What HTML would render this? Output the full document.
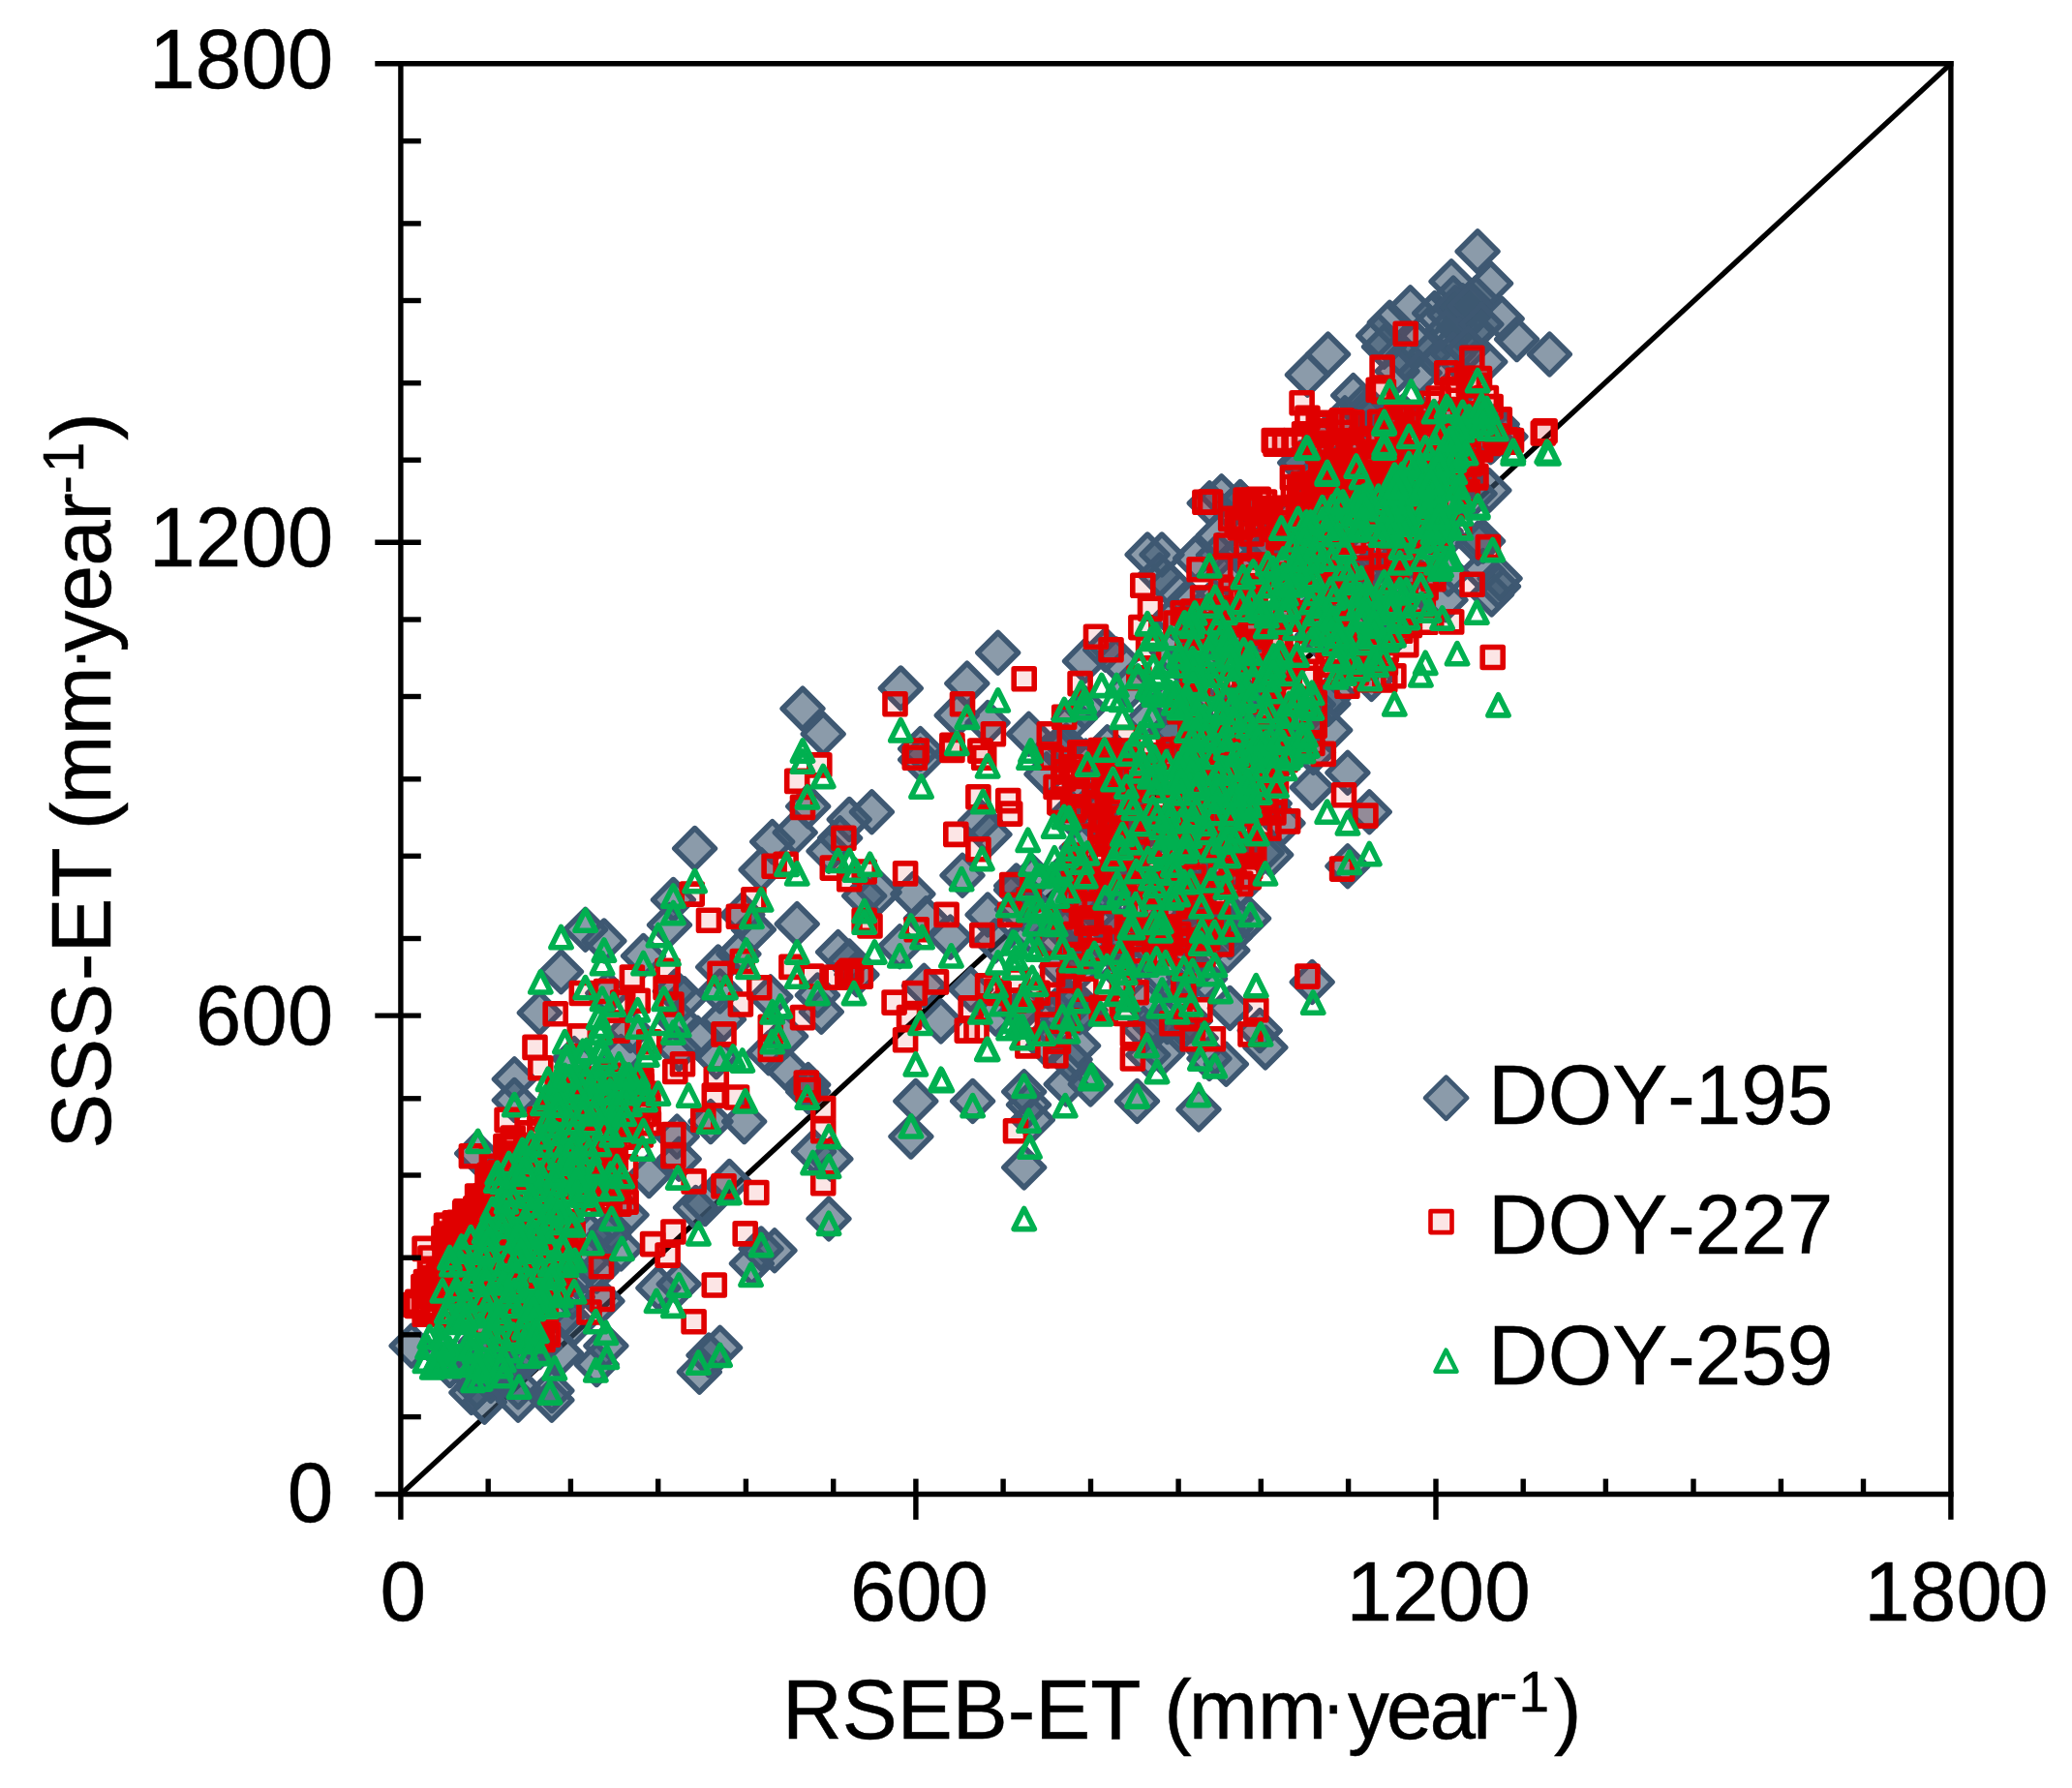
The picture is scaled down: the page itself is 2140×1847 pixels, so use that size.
<!DOCTYPE html>
<html lang="en"><head><meta charset="utf-8"><title>SSS-ET vs RSEB-ET</title>
<style>html,body{margin:0;padding:0;background:#fff}svg{display:block}text{font-family:"Liberation Sans",sans-serif;fill:#000;font-kerning:none}</style>
</head><body>
<svg width="2140" height="1847" viewBox="0 0 2140 1847">
<rect width="2140" height="1847" fill="#fff"/>
<g stroke="#000" stroke-width="5.4" fill="none" stroke-linecap="butt">
<path d="M413.9 1543.5L2014.9 65.8"/>
</g>
<g fill="#3e5872" fill-opacity="0.6" stroke="#3e5872" stroke-width="5.6" stroke-linejoin="round">
<path d="M547.9 1377.1l20.8 20.8-20.8 20.8-20.8-20.8z"/><path d="M506.8 1405.7l20.8 20.8-20.8 20.8-20.8-20.8z"/><path d="M607.2 1281.4l20.8 20.8-20.8 20.8-20.8-20.8z"/><path d="M502.1 1380.3l20.8 20.8-20.8 20.8-20.8-20.8z"/><path d="M596.2 1298.2l20.8 20.8-20.8 20.8-20.8-20.8z"/><path d="M591.2 1319l20.8 20.8-20.8 20.8-20.8-20.8z"/><path d="M517.1 1397.2l20.8 20.8-20.8 20.8-20.8-20.8z"/><path d="M527.8 1363l20.8 20.8-20.8 20.8-20.8-20.8z"/><path d="M551.6 1353.7l20.8 20.8-20.8 20.8-20.8-20.8z"/><path d="M628.6 1255.1l20.8 20.8-20.8 20.8-20.8-20.8z"/><path d="M496.2 1365.8l20.8 20.8-20.8 20.8-20.8-20.8z"/><path d="M548 1361.6l20.8 20.8-20.8 20.8-20.8-20.8z"/><path d="M464.7 1389.8l20.8 20.8-20.8 20.8-20.8-20.8z"/><path d="M609.7 1255.8l20.8 20.8-20.8 20.8-20.8-20.8z"/><path d="M513.4 1391.1l20.8 20.8-20.8 20.8-20.8-20.8z"/><path d="M583.8 1337l20.8 20.8-20.8 20.8-20.8-20.8z"/><path d="M458.8 1378.6l20.8 20.8-20.8 20.8-20.8-20.8z"/><path d="M557.4 1371l20.8 20.8-20.8 20.8-20.8-20.8z"/><path d="M486.1 1397.9l20.8 20.8-20.8 20.8-20.8-20.8z"/><path d="M540.4 1382l20.8 20.8-20.8 20.8-20.8-20.8z"/><path d="M631.2 1249.8l20.8 20.8-20.8 20.8-20.8-20.8z"/><path d="M531.3 1115.6l20.8 20.8-20.8 20.8-20.8-20.8z"/><path d="M492.7 1170.6l20.8 20.8-20.8 20.8-20.8-20.8z"/><path d="M670.3 1193.8l20.8 20.8-20.8 20.8-20.8-20.8z"/><path d="M699.2 1153.3l20.8 20.8-20.8 20.8-20.8-20.8z"/><path d="M701.2 1176.4l20.8 20.8-20.8 20.8-20.8-20.8z"/><path d="M768.7 1137.8l20.8 20.8-20.8 20.8-20.8-20.8z"/><path d="M734 1137.8l20.8 20.8-20.8 20.8-20.8-20.8z"/><path d="M753.3 1199.6l20.8 20.8-20.8 20.8-20.8-20.8z"/><path d="M718.5 1226.6l20.8 20.8-20.8 20.8-20.8-20.8z"/><path d="M728.2 1222.8l20.8 20.8-20.8 20.8-20.8-20.8z"/><path d="M786.1 1269.1l20.8 20.8-20.8 20.8-20.8-20.8z"/><path d="M776.4 1284.5l20.8 20.8-20.8 20.8-20.8-20.8z"/><path d="M679.9 1309.6l20.8 20.8-20.8 20.8-20.8-20.8z"/><path d="M701.2 1305.8l20.8 20.8-20.8 20.8-20.8-20.8z"/><path d="M616.2 1292.3l20.8 20.8-20.8 20.8-20.8-20.8z"/><path d="M622 1323.1l20.8 20.8-20.8 20.8-20.8-20.8z"/><path d="M743.6 1371.4l20.8 20.8-20.8 20.8-20.8-20.8z"/><path d="M722.4 1396.5l20.8 20.8-20.8 20.8-20.8-20.8z"/><path d="M732 1379.1l20.8 20.8-20.8 20.8-20.8-20.8z"/><path d="M625.9 1369.5l20.8 20.8-20.8 20.8-20.8-20.8z"/><path d="M616.2 1388.8l20.8 20.8-20.8 20.8-20.8-20.8z"/><path d="M569.9 1415.8l20.8 20.8-20.8 20.8-20.8-20.8z"/><path d="M535.1 1411.9l20.8 20.8-20.8 20.8-20.8-20.8z"/><path d="M492.7 1411.9l20.8 20.8-20.8 20.8-20.8-20.8z"/><path d="M508.1 1400.4l20.8 20.8-20.8 20.8-20.8-20.8z"/><path d="M425.1 1369.5l20.8 20.8-20.8 20.8-20.8-20.8z"/><path d="M486.9 1417.7l20.8 20.8-20.8 20.8-20.8-20.8z"/><path d="M500.4 1427.4l20.8 20.8-20.8 20.8-20.8-20.8z"/><path d="M569.9 1425.5l20.8 20.8-20.8 20.8-20.8-20.8z"/><path d="M535.1 1425.5l20.8 20.8-20.8 20.8-20.8-20.8z"/><path d="M593.1 1346.3l20.8 20.8-20.8 20.8-20.8-20.8z"/><path d="M579.5 1377.2l20.8 20.8-20.8 20.8-20.8-20.8z"/><path d="M647.1 1234.3l20.8 20.8-20.8 20.8-20.8-20.8z"/><path d="M641.3 1269.1l20.8 20.8-20.8 20.8-20.8-20.8z"/><path d="M717.6 855.6l20.8 20.8-20.8 20.8-20.8-20.8z"/><path d="M786.1 877.8l20.8 20.8-20.8 20.8-20.8-20.8z"/><path d="M797.7 848.8l20.8 20.8-20.8 20.8-20.8-20.8z"/><path d="M695.4 908.6l20.8 20.8-20.8 20.8-20.8-20.8z"/><path d="M691.5 934.7l20.8 20.8-20.8 20.8-20.8-20.8z"/><path d="M604.6 939.5l20.8 20.8-20.8 20.8-20.8-20.8z"/><path d="M623.9 951.1l20.8 20.8-20.8 20.8-20.8-20.8z"/><path d="M664.5 966.6l20.8 20.8-20.8 20.8-20.8-20.8z"/><path d="M579.5 983l20.8 20.8-20.8 20.8-20.8-20.8z"/><path d="M557.3 1025.4l20.8 20.8-20.8 20.8-20.8-20.8z"/><path d="M697.3 1003.2l20.8 20.8-20.8 20.8-20.8-20.8z"/><path d="M706.9 1011l20.8 20.8-20.8 20.8-20.8-20.8z"/><path d="M627.8 1005.2l20.8 20.8-20.8 20.8-20.8-20.8z"/><path d="M741.7 978.1l20.8 20.8-20.8 20.8-20.8-20.8z"/><path d="M762.9 964.6l20.8 20.8-20.8 20.8-20.8-20.8z"/><path d="M778.4 939.5l20.8 20.8-20.8 20.8-20.8-20.8z"/><path d="M766.8 924.1l20.8 20.8-20.8 20.8-20.8-20.8z"/><path d="M743.6 1003.2l20.8 20.8-20.8 20.8-20.8-20.8z"/><path d="M747.5 1032.2l20.8 20.8-20.8 20.8-20.8-20.8z"/><path d="M720.5 1051.5l20.8 20.8-20.8 20.8-20.8-20.8z"/><path d="M701.2 1063.1l20.8 20.8-20.8 20.8-20.8-20.8z"/><path d="M795.8 1009l20.8 20.8-20.8 20.8-20.8-20.8z"/><path d="M793.8 1066.9l20.8 20.8-20.8 20.8-20.8-20.8z"/><path d="M739.8 1070.8l20.8 20.8-20.8 20.8-20.8-20.8z"/><path d="M531.3 1094l20.8 20.8-20.8 20.8-20.8-20.8z"/><path d="M593.1 1072.7l20.8 20.8-20.8 20.8-20.8-20.8z"/><path d="M651 1043.8l20.8 20.8-20.8 20.8-20.8-20.8z"/><path d="M641.3 1070.8l20.8 20.8-20.8 20.8-20.8-20.8z"/><path d="M701.2 1034.1l20.8 20.8-20.8 20.8-20.8-20.8z"/><path d="M834.7 1106.9l20.8 20.8-20.8 20.8-20.8-20.8z"/><path d="M945.8 1116.6l20.8 20.8-20.8 20.8-20.8-20.8z"/><path d="M1004.6 1116.6l20.8 20.8-20.8 20.8-20.8-20.8z"/><path d="M940.9 1153.3l20.8 20.8-20.8 20.8-20.8-20.8z"/><path d="M1057.7 1106.9l20.8 20.8-20.8 20.8-20.8-20.8z"/><path d="M1062.5 1120.4l20.8 20.8-20.8 20.8-20.8-20.8z"/><path d="M1066.4 1135.9l20.8 20.8-20.8 20.8-20.8-20.8z"/><path d="M1057.7 1185.1l20.8 20.8-20.8 20.8-20.8-20.8z"/><path d="M1174.5 1116.6l20.8 20.8-20.8 20.8-20.8-20.8z"/><path d="M1101.2 1099.2l20.8 20.8-20.8 20.8-20.8-20.8z"/><path d="M1126.3 1099.2l20.8 20.8-20.8 20.8-20.8-20.8z"/><path d="M840.5 1168.7l20.8 20.8-20.8 20.8-20.8-20.8z"/><path d="M857.9 1176.4l20.8 20.8-20.8 20.8-20.8-20.8z"/><path d="M856 1238.2l20.8 20.8-20.8 20.8-20.8-20.8z"/><path d="M800 1271l20.8 20.8-20.8 20.8-20.8-20.8z"/><path d="M834.7 812.1l20.8 20.8-20.8 20.8-20.8-20.8z"/><path d="M821.2 839.1l20.8 20.8-20.8 20.8-20.8-20.8z"/><path d="M877.2 825.6l20.8 20.8-20.8 20.8-20.8-20.8z"/><path d="M900.4 817.9l20.8 20.8-20.8 20.8-20.8-20.8z"/><path d="M867.6 844.9l20.8 20.8-20.8 20.8-20.8-20.8z"/><path d="M856 858.4l20.8 20.8-20.8 20.8-20.8-20.8z"/><path d="M823.2 933.7l20.8 20.8-20.8 20.8-20.8-20.8z"/><path d="M865.6 962.7l20.8 20.8-20.8 20.8-20.8-20.8z"/><path d="M892.7 904.8l20.8 20.8-20.8 20.8-20.8-20.8z"/><path d="M908.1 900.9l20.8 20.8-20.8 20.8-20.8-20.8z"/><path d="M942.9 902.8l20.8 20.8-20.8 20.8-20.8-20.8z"/><path d="M956.4 927.9l20.8 20.8-20.8 20.8-20.8-20.8z"/><path d="M994 883.5l20.8 20.8-20.8 20.8-20.8-20.8z"/><path d="M929.3 956.9l20.8 20.8-20.8 20.8-20.8-20.8z"/><path d="M981.5 947.3l20.8 20.8-20.8 20.8-20.8-20.8z"/><path d="M1020.1 924.1l20.8 20.8-20.8 20.8-20.8-20.8z"/><path d="M1012.4 827.6l20.8 20.8-20.8 20.8-20.8-20.8z"/><path d="M1022 841.1l20.8 20.8-20.8 20.8-20.8-20.8z"/><path d="M950.6 763.9l20.8 20.8-20.8 20.8-20.8-20.8z"/><path d="M844.4 1007.1l20.8 20.8-20.8 20.8-20.8-20.8z"/><path d="M848.3 1024.5l20.8 20.8-20.8 20.8-20.8-20.8z"/><path d="M811.6 1049.6l20.8 20.8-20.8 20.8-20.8-20.8z"/><path d="M811.6 1082.4l20.8 20.8-20.8 20.8-20.8-20.8z"/><path d="M834.7 1099.8l20.8 20.8-20.8 20.8-20.8-20.8z"/><path d="M971.8 1034.1l20.8 20.8-20.8 20.8-20.8-20.8z"/><path d="M1002.7 1001.3l20.8 20.8-20.8 20.8-20.8-20.8z"/><path d="M954.4 997.4l20.8 20.8-20.8 20.8-20.8-20.8z"/><path d="M1027.8 951.1l20.8 20.8-20.8 20.8-20.8-20.8z"/><path d="M877.2 972.3l20.8 20.8-20.8 20.8-20.8-20.8z"/><path d="M884.9 985.9l20.8 20.8-20.8 20.8-20.8-20.8z"/><path d="M1113.6 1059.5l20.8 20.8-20.8 20.8-20.8-20.8z"/><path d="M1170.8 807.6l20.8 20.8-20.8 20.8-20.8-20.8z"/><path d="M1131.9 819.7l20.8 20.8-20.8 20.8-20.8-20.8z"/><path d="M1272 786.4l20.8 20.8-20.8 20.8-20.8-20.8z"/><path d="M1189.9 829.4l20.8 20.8-20.8 20.8-20.8-20.8z"/><path d="M1227.8 988.1l20.8 20.8-20.8 20.8-20.8-20.8z"/><path d="M1050.5 918.8l20.8 20.8-20.8 20.8-20.8-20.8z"/><path d="M1223 939.5l20.8 20.8-20.8 20.8-20.8-20.8z"/><path d="M1275.7 853.6l20.8 20.8-20.8 20.8-20.8-20.8z"/><path d="M1270.4 810.8l20.8 20.8-20.8 20.8-20.8-20.8z"/><path d="M1242.3 963.8l20.8 20.8-20.8 20.8-20.8-20.8z"/><path d="M1114.3 908.1l20.8 20.8-20.8 20.8-20.8-20.8z"/><path d="M1242.1 938.1l20.8 20.8-20.8 20.8-20.8-20.8z"/><path d="M1148.4 889.8l20.8 20.8-20.8 20.8-20.8-20.8z"/><path d="M1273.7 824.9l20.8 20.8-20.8 20.8-20.8-20.8z"/><path d="M1142.6 837.5l20.8 20.8-20.8 20.8-20.8-20.8z"/><path d="M1229.3 1033.6l20.8 20.8-20.8 20.8-20.8-20.8z"/><path d="M1081 778.9l20.8 20.8-20.8 20.8-20.8-20.8z"/><path d="M1053.7 1024.9l20.8 20.8-20.8 20.8-20.8-20.8z"/><path d="M1183.1 917l20.8 20.8-20.8 20.8-20.8-20.8z"/><path d="M1218.3 1043.5l20.8 20.8-20.8 20.8-20.8-20.8z"/><path d="M1168.5 837l20.8 20.8-20.8 20.8-20.8-20.8z"/><path d="M1279.6 895.3l20.8 20.8-20.8 20.8-20.8-20.8z"/><path d="M1185.8 1068.9l20.8 20.8-20.8 20.8-20.8-20.8z"/><path d="M1028.5 1026.5l20.8 20.8-20.8 20.8-20.8-20.8z"/><path d="M1244.5 990.2l20.8 20.8-20.8 20.8-20.8-20.8z"/><path d="M1216.8 1004.9l20.8 20.8-20.8 20.8-20.8-20.8z"/><path d="M1136.2 801.6l20.8 20.8-20.8 20.8-20.8-20.8z"/><path d="M1066.9 885.3l20.8 20.8-20.8 20.8-20.8-20.8z"/><path d="M1243.7 860.3l20.8 20.8-20.8 20.8-20.8-20.8z"/><path d="M1194.2 939.8l20.8 20.8-20.8 20.8-20.8-20.8z"/><path d="M1146.6 780.2l20.8 20.8-20.8 20.8-20.8-20.8z"/><path d="M1145.7 903.9l20.8 20.8-20.8 20.8-20.8-20.8z"/><path d="M1312.6 751.6l20.8 20.8-20.8 20.8-20.8-20.8z"/><path d="M1246.7 804.6l20.8 20.8-20.8 20.8-20.8-20.8z"/><path d="M1211.8 830.1l20.8 20.8-20.8 20.8-20.8-20.8z"/><path d="M1181.7 836.8l20.8 20.8-20.8 20.8-20.8-20.8z"/><path d="M1261.3 845.1l20.8 20.8-20.8 20.8-20.8-20.8z"/><path d="M1115.3 1025l20.8 20.8-20.8 20.8-20.8-20.8z"/><path d="M1289.1 779l20.8 20.8-20.8 20.8-20.8-20.8z"/><path d="M1285.9 804.1l20.8 20.8-20.8 20.8-20.8-20.8z"/><path d="M1311.2 809.2l20.8 20.8-20.8 20.8-20.8-20.8z"/><path d="M1162.7 815.3l20.8 20.8-20.8 20.8-20.8-20.8z"/><path d="M1147.3 930.1l20.8 20.8-20.8 20.8-20.8-20.8z"/><path d="M1171.7 965.7l20.8 20.8-20.8 20.8-20.8-20.8z"/><path d="M1117.2 854.9l20.8 20.8-20.8 20.8-20.8-20.8z"/><path d="M1115.6 968.1l20.8 20.8-20.8 20.8-20.8-20.8z"/><path d="M1120.2 790.9l20.8 20.8-20.8 20.8-20.8-20.8z"/><path d="M1100.1 941l20.8 20.8-20.8 20.8-20.8-20.8z"/><path d="M1129.7 957.4l20.8 20.8-20.8 20.8-20.8-20.8z"/><path d="M1181.1 1014.9l20.8 20.8-20.8 20.8-20.8-20.8z"/><path d="M1200.6 767.4l20.8 20.8-20.8 20.8-20.8-20.8z"/><path d="M1290.1 769.4l20.8 20.8-20.8 20.8-20.8-20.8z"/><path d="M1235.2 1051.6l20.8 20.8-20.8 20.8-20.8-20.8z"/><path d="M1087.6 945.2l20.8 20.8-20.8 20.8-20.8-20.8z"/><path d="M1238.6 886.3l20.8 20.8-20.8 20.8-20.8-20.8z"/><path d="M1203.9 988.3l20.8 20.8-20.8 20.8-20.8-20.8z"/><path d="M1110.2 1014.8l20.8 20.8-20.8 20.8-20.8-20.8z"/><path d="M1049.6 898.5l20.8 20.8-20.8 20.8-20.8-20.8z"/><path d="M1151.4 944l20.8 20.8-20.8 20.8-20.8-20.8z"/><path d="M1183.6 897l20.8 20.8-20.8 20.8-20.8-20.8z"/><path d="M1213.3 863.3l20.8 20.8-20.8 20.8-20.8-20.8z"/><path d="M1096.1 977.8l20.8 20.8-20.8 20.8-20.8-20.8z"/><path d="M1192.7 961.9l20.8 20.8-20.8 20.8-20.8-20.8z"/><path d="M1219 799.5l20.8 20.8-20.8 20.8-20.8-20.8z"/><path d="M1101.8 1018.1l20.8 20.8-20.8 20.8-20.8-20.8z"/><path d="M1071.9 933.3l20.8 20.8-20.8 20.8-20.8-20.8z"/><path d="M1325 829.5l20.8 20.8-20.8 20.8-20.8-20.8z"/><path d="M1204.9 910.6l20.8 20.8-20.8 20.8-20.8-20.8z"/><path d="M1162.7 857.6l20.8 20.8-20.8 20.8-20.8-20.8z"/><path d="M1105.1 1073.7l20.8 20.8-20.8 20.8-20.8-20.8z"/><path d="M1271.2 938.3l20.8 20.8-20.8 20.8-20.8-20.8z"/><path d="M1256.9 762.9l20.8 20.8-20.8 20.8-20.8-20.8z"/><path d="M1303.2 860.4l20.8 20.8-20.8 20.8-20.8-20.8z"/><path d="M1222.5 889.1l20.8 20.8-20.8 20.8-20.8-20.8z"/><path d="M1172.6 774l20.8 20.8-20.8 20.8-20.8-20.8z"/><path d="M1226 959.7l20.8 20.8-20.8 20.8-20.8-20.8z"/><path d="M1243.3 898.1l20.8 20.8-20.8 20.8-20.8-20.8z"/><path d="M1152.7 760.7l20.8 20.8-20.8 20.8-20.8-20.8z"/><path d="M1267.8 961l20.8 20.8-20.8 20.8-20.8-20.8z"/><path d="M1121.3 765.1l20.8 20.8-20.8 20.8-20.8-20.8z"/><path d="M1226.4 911.3l20.8 20.8-20.8 20.8-20.8-20.8z"/><path d="M1160.5 985.3l20.8 20.8-20.8 20.8-20.8-20.8z"/><path d="M1153 963.8l20.8 20.8-20.8 20.8-20.8-20.8z"/><path d="M1205.7 833l20.8 20.8-20.8 20.8-20.8-20.8z"/><path d="M1121.1 1022.8l20.8 20.8-20.8 20.8-20.8-20.8z"/><path d="M1106.4 819.6l20.8 20.8-20.8 20.8-20.8-20.8z"/><path d="M1178.4 857.3l20.8 20.8-20.8 20.8-20.8-20.8z"/><path d="M1229.9 752.8l20.8 20.8-20.8 20.8-20.8-20.8z"/><path d="M1126.5 914.4l20.8 20.8-20.8 20.8-20.8-20.8z"/><path d="M1324.2 744.3l20.8 20.8-20.8 20.8-20.8-20.8z"/><path d="M1064.9 941.2l20.8 20.8-20.8 20.8-20.8-20.8z"/><path d="M1181.2 1041.8l20.8 20.8-20.8 20.8-20.8-20.8z"/><path d="M1205.5 1034.8l20.8 20.8-20.8 20.8-20.8-20.8z"/><path d="M1082.2 1059.7l20.8 20.8-20.8 20.8-20.8-20.8z"/><path d="M1099.1 882.1l20.8 20.8-20.8 20.8-20.8-20.8z"/><path d="M1272.9 926.7l20.8 20.8-20.8 20.8-20.8-20.8z"/><path d="M1057 1018.9l20.8 20.8-20.8 20.8-20.8-20.8z"/><path d="M1090.2 1023.3l20.8 20.8-20.8 20.8-20.8-20.8z"/><path d="M1093.1 901.4l20.8 20.8-20.8 20.8-20.8-20.8z"/><path d="M1098.3 935.6l20.8 20.8-20.8 20.8-20.8-20.8z"/><path d="M1088.9 1042.7l20.8 20.8-20.8 20.8-20.8-20.8z"/><path d="M1113.6 981.9l20.8 20.8-20.8 20.8-20.8-20.8z"/><path d="M1091.3 753.4l20.8 20.8-20.8 20.8-20.8-20.8z"/><path d="M1231 776.3l20.8 20.8-20.8 20.8-20.8-20.8z"/><path d="M1049.7 894.1l20.8 20.8-20.8 20.8-20.8-20.8z"/><path d="M1260.7 885.8l20.8 20.8-20.8 20.8-20.8-20.8z"/><path d="M1391.9 777.4l20.8 20.8-20.8 20.8-20.8-20.8z"/><path d="M1355.2 792.8l20.8 20.8-20.8 20.8-20.8-20.8z"/><path d="M1312.7 862.3l20.8 20.8-20.8 20.8-20.8-20.8z"/><path d="M1391.9 873.9l20.8 20.8-20.8 20.8-20.8-20.8z"/><path d="M1355.2 993.6l20.8 20.8-20.8 20.8-20.8-20.8z"/><path d="M1270.3 1020.6l20.8 20.8-20.8 20.8-20.8-20.8z"/><path d="M1301.2 1043.8l20.8 20.8-20.8 20.8-20.8-20.8z"/><path d="M1306.9 1061.1l20.8 20.8-20.8 20.8-20.8-20.8z"/><path d="M1249 1072.7l20.8 20.8-20.8 20.8-20.8-20.8z"/><path d="M1266.4 1078.5l20.8 20.8-20.8 20.8-20.8-20.8z"/><path d="M1193.1 1039.9l20.8 20.8-20.8 20.8-20.8-20.8z"/><path d="M1200.8 1066.9l20.8 20.8-20.8 20.8-20.8-20.8z"/><path d="M1289.6 927.9l20.8 20.8-20.8 20.8-20.8-20.8z"/><path d="M1247.1 937.6l20.8 20.8-20.8 20.8-20.8-20.8z"/><path d="M1270.3 947.3l20.8 20.8-20.8 20.8-20.8-20.8z"/><path d="M1414.3 817.9l20.8 20.8-20.8 20.8-20.8-20.8z"/><path d="M1248.2 604.6l20.8 20.8-20.8 20.8-20.8-20.8z"/><path d="M1356.4 756.7l20.8 20.8-20.8 20.8-20.8-20.8z"/><path d="M1324.2 615.1l20.8 20.8-20.8 20.8-20.8-20.8z"/><path d="M1495.8 572.2l20.8 20.8-20.8 20.8-20.8-20.8z"/><path d="M1504.3 495.8l20.8 20.8-20.8 20.8-20.8-20.8z"/><path d="M1406.9 573.8l20.8 20.8-20.8 20.8-20.8-20.8z"/><path d="M1233 677l20.8 20.8-20.8 20.8-20.8-20.8z"/><path d="M1540.6 593.2l20.8 20.8-20.8 20.8-20.8-20.8z"/><path d="M1290.4 526.7l20.8 20.8-20.8 20.8-20.8-20.8z"/><path d="M1335 512.8l20.8 20.8-20.8 20.8-20.8-20.8z"/><path d="M1531.6 538.3l20.8 20.8-20.8 20.8-20.8-20.8z"/><path d="M1347.9 536.9l20.8 20.8-20.8 20.8-20.8-20.8z"/><path d="M1498.8 441l20.8 20.8-20.8 20.8-20.8-20.8z"/><path d="M1403.6 450.4l20.8 20.8-20.8 20.8-20.8-20.8z"/><path d="M1360.7 492.4l20.8 20.8-20.8 20.8-20.8-20.8z"/><path d="M1494.7 465.8l20.8 20.8-20.8 20.8-20.8-20.8z"/><path d="M1212.2 617.2l20.8 20.8-20.8 20.8-20.8-20.8z"/><path d="M1433.1 584.3l20.8 20.8-20.8 20.8-20.8-20.8z"/><path d="M1261.5 756l20.8 20.8-20.8 20.8-20.8-20.8z"/><path d="M1345.8 595.9l20.8 20.8-20.8 20.8-20.8-20.8z"/><path d="M1258.4 552.6l20.8 20.8-20.8 20.8-20.8-20.8z"/><path d="M1488.1 528l20.8 20.8-20.8 20.8-20.8-20.8z"/><path d="M1473 454.6l20.8 20.8-20.8 20.8-20.8-20.8z"/><path d="M1360.5 635.6l20.8 20.8-20.8 20.8-20.8-20.8z"/><path d="M1431.3 622.3l20.8 20.8-20.8 20.8-20.8-20.8z"/><path d="M1301.1 629.7l20.8 20.8-20.8 20.8-20.8-20.8z"/><path d="M1387.2 481.4l20.8 20.8-20.8 20.8-20.8-20.8z"/><path d="M1205.6 704.6l20.8 20.8-20.8 20.8-20.8-20.8z"/><path d="M1284.3 698.6l20.8 20.8-20.8 20.8-20.8-20.8z"/><path d="M1240 703.3l20.8 20.8-20.8 20.8-20.8-20.8z"/><path d="M1242.7 641.7l20.8 20.8-20.8 20.8-20.8-20.8z"/><path d="M1304.3 550.9l20.8 20.8-20.8 20.8-20.8-20.8z"/><path d="M1359.7 608.8l20.8 20.8-20.8 20.8-20.8-20.8z"/><path d="M1238.3 725.8l20.8 20.8-20.8 20.8-20.8-20.8z"/><path d="M1411.8 426.5l20.8 20.8-20.8 20.8-20.8-20.8z"/><path d="M1523.4 406.1l20.8 20.8-20.8 20.8-20.8-20.8z"/><path d="M1409.5 495.3l20.8 20.8-20.8 20.8-20.8-20.8z"/><path d="M1377.2 695.2l20.8 20.8-20.8 20.8-20.8-20.8z"/><path d="M1469.3 562.7l20.8 20.8-20.8 20.8-20.8-20.8z"/><path d="M1546.2 417.4l20.8 20.8-20.8 20.8-20.8-20.8z"/><path d="M1339 711.6l20.8 20.8-20.8 20.8-20.8-20.8z"/><path d="M1354.6 722.5l20.8 20.8-20.8 20.8-20.8-20.8z"/><path d="M1230.6 652.4l20.8 20.8-20.8 20.8-20.8-20.8z"/><path d="M1465.8 512.4l20.8 20.8-20.8 20.8-20.8-20.8z"/><path d="M1531.7 568.8l20.8 20.8-20.8 20.8-20.8-20.8z"/><path d="M1416.5 680.6l20.8 20.8-20.8 20.8-20.8-20.8z"/><path d="M1413.1 650.6l20.8 20.8-20.8 20.8-20.8-20.8z"/><path d="M1356.3 706.9l20.8 20.8-20.8 20.8-20.8-20.8z"/><path d="M1245.5 672.1l20.8 20.8-20.8 20.8-20.8-20.8z"/><path d="M1423.7 612.6l20.8 20.8-20.8 20.8-20.8-20.8z"/><path d="M1411.1 548l20.8 20.8-20.8 20.8-20.8-20.8z"/><path d="M1377 518.4l20.8 20.8-20.8 20.8-20.8-20.8z"/><path d="M1263 639.2l20.8 20.8-20.8 20.8-20.8-20.8z"/><path d="M1297.2 690.6l20.8 20.8-20.8 20.8-20.8-20.8z"/><path d="M1208.7 733.6l20.8 20.8-20.8 20.8-20.8-20.8z"/><path d="M1389.2 565.1l20.8 20.8-20.8 20.8-20.8-20.8z"/><path d="M1449.2 408.9l20.8 20.8-20.8 20.8-20.8-20.8z"/><path d="M1337.3 538.4l20.8 20.8-20.8 20.8-20.8-20.8z"/><path d="M1493 598.9l20.8 20.8-20.8 20.8-20.8-20.8z"/><path d="M1549.1 576.7l20.8 20.8-20.8 20.8-20.8-20.8z"/><path d="M1469.9 411.7l20.8 20.8-20.8 20.8-20.8-20.8z"/><path d="M1410.5 408.2l20.8 20.8-20.8 20.8-20.8-20.8z"/><path d="M1469.1 581.4l20.8 20.8-20.8 20.8-20.8-20.8z"/><path d="M1235.4 624.3l20.8 20.8-20.8 20.8-20.8-20.8z"/><path d="M1400.1 665.5l20.8 20.8-20.8 20.8-20.8-20.8z"/><path d="M1445.7 475.5l20.8 20.8-20.8 20.8-20.8-20.8z"/><path d="M1446.7 560.5l20.8 20.8-20.8 20.8-20.8-20.8z"/><path d="M1213.6 734.5l20.8 20.8-20.8 20.8-20.8-20.8z"/><path d="M1315.3 738.4l20.8 20.8-20.8 20.8-20.8-20.8z"/><path d="M1306.1 706.8l20.8 20.8-20.8 20.8-20.8-20.8z"/><path d="M1390.5 528.2l20.8 20.8-20.8 20.8-20.8-20.8z"/><path d="M1433 416.7l20.8 20.8-20.8 20.8-20.8-20.8z"/><path d="M1325.4 671l20.8 20.8-20.8 20.8-20.8-20.8z"/><path d="M1493 410.1l20.8 20.8-20.8 20.8-20.8-20.8z"/><path d="M1415.8 568.1l20.8 20.8-20.8 20.8-20.8-20.8z"/><path d="M1267.9 572.6l20.8 20.8-20.8 20.8-20.8-20.8z"/><path d="M1492.8 534.9l20.8 20.8-20.8 20.8-20.8-20.8z"/><path d="M1523.1 489.2l20.8 20.8-20.8 20.8-20.8-20.8z"/><path d="M1380.6 534.3l20.8 20.8-20.8 20.8-20.8-20.8z"/><path d="M1398.7 628.7l20.8 20.8-20.8 20.8-20.8-20.8z"/><path d="M1457.2 571.8l20.8 20.8-20.8 20.8-20.8-20.8z"/><path d="M1537.9 485.7l20.8 20.8-20.8 20.8-20.8-20.8z"/><path d="M1240.2 764.2l20.8 20.8-20.8 20.8-20.8-20.8z"/><path d="M1210.1 652.3l20.8 20.8-20.8 20.8-20.8-20.8z"/><path d="M1410.3 484.2l20.8 20.8-20.8 20.8-20.8-20.8z"/><path d="M1328 759.2l20.8 20.8-20.8 20.8-20.8-20.8z"/><path d="M1324.1 562.7l20.8 20.8-20.8 20.8-20.8-20.8z"/><path d="M1445.3 536.8l20.8 20.8-20.8 20.8-20.8-20.8z"/><path d="M1297.8 661.2l20.8 20.8-20.8 20.8-20.8-20.8z"/><path d="M1445.4 627.5l20.8 20.8-20.8 20.8-20.8-20.8z"/><path d="M1436.9 442l20.8 20.8-20.8 20.8-20.8-20.8z"/><path d="M1354.7 475.4l20.8 20.8-20.8 20.8-20.8-20.8z"/><path d="M1303.2 542.9l20.8 20.8-20.8 20.8-20.8-20.8z"/><path d="M1407.5 399.4l20.8 20.8-20.8 20.8-20.8-20.8z"/><path d="M1389 582.7l20.8 20.8-20.8 20.8-20.8-20.8z"/><path d="M1449.6 607.7l20.8 20.8-20.8 20.8-20.8-20.8z"/><path d="M1282.2 552.5l20.8 20.8-20.8 20.8-20.8-20.8z"/><path d="M1375.8 481.3l20.8 20.8-20.8 20.8-20.8-20.8z"/><path d="M1447.2 450.9l20.8 20.8-20.8 20.8-20.8-20.8z"/><path d="M1454.3 467.7l20.8 20.8-20.8 20.8-20.8-20.8z"/><path d="M1423.2 505.7l20.8 20.8-20.8 20.8-20.8-20.8z"/><path d="M1392.7 599.5l20.8 20.8-20.8 20.8-20.8-20.8z"/><path d="M1477.8 474.6l20.8 20.8-20.8 20.8-20.8-20.8z"/><path d="M1386.6 503.1l20.8 20.8-20.8 20.8-20.8-20.8z"/><path d="M1249.2 499l20.8 20.8-20.8 20.8-20.8-20.8z"/><path d="M1281.1 498l20.8 20.8-20.8 20.8-20.8-20.8z"/><path d="M1547.5 584.9l20.8 20.8-20.8 20.8-20.8-20.8z"/><path d="M1526.3 540.5l20.8 20.8-20.8 20.8-20.8-20.8z"/><path d="M1541.7 434.3l20.8 20.8-20.8 20.8-20.8-20.8z"/><path d="M1371.8 706.5l20.8 20.8-20.8 20.8-20.8-20.8z"/><path d="M1200 552.1l20.8 20.8-20.8 20.8-20.8-20.8z"/><path d="M1207.7 582.9l20.8 20.8-20.8 20.8-20.8-20.8z"/><path d="M1234.7 555.9l20.8 20.8-20.8 20.8-20.8-20.8z"/><path d="M1257.9 532.8l20.8 20.8-20.8 20.8-20.8-20.8z"/><path d="M1227 600.3l20.8 20.8-20.8 20.8-20.8-20.8z"/><path d="M1373.7 733.5l20.8 20.8-20.8 20.8-20.8-20.8z"/><path d="M1344.8 457.5l20.8 20.8-20.8 20.8-20.8-20.8z"/><path d="M1526.1 239l20.8 20.8-20.8 20.8-20.8-20.8z"/><path d="M1539.6 271.9l20.8 20.8-20.8 20.8-20.8-20.8z"/><path d="M1499 269.9l20.8 20.8-20.8 20.8-20.8-20.8z"/><path d="M1456.6 297l20.8 20.8-20.8 20.8-20.8-20.8z"/><path d="M1435.3 312.4l20.8 20.8-20.8 20.8-20.8-20.8z"/><path d="M1481.7 302.8l20.8 20.8-20.8 20.8-20.8-20.8z"/><path d="M1551.2 308.5l20.8 20.8-20.8 20.8-20.8-20.8z"/><path d="M1566.6 329.8l20.8 20.8-20.8 20.8-20.8-20.8z"/><path d="M1600.4 345.2l20.8 20.8-20.8 20.8-20.8-20.8z"/><path d="M1371.6 345.2l20.8 20.8-20.8 20.8-20.8-20.8z"/><path d="M1350.4 366.5l20.8 20.8-20.8 20.8-20.8-20.8z"/><path d="M1397.7 387.7l20.8 20.8-20.8 20.8-20.8-20.8z"/><path d="M1389 410.9l20.8 20.8-20.8 20.8-20.8-20.8z"/><path d="M1429.5 337.5l20.8 20.8-20.8 20.8-20.8-20.8z"/><path d="M1462.4 333.6l20.8 20.8-20.8 20.8-20.8-20.8z"/><path d="M1477.8 343.3l20.8 20.8-20.8 20.8-20.8-20.8z"/><path d="M1501 287.3l20.8 20.8-20.8 20.8-20.8-20.8z"/><path d="M1510.6 295l20.8 20.8-20.8 20.8-20.8-20.8z"/><path d="M1516.4 306.6l20.8 20.8-20.8 20.8-20.8-20.8z"/><path d="M1506.8 318.2l20.8 20.8-20.8 20.8-20.8-20.8z"/><path d="M1520.3 322.1l20.8 20.8-20.8 20.8-20.8-20.8z"/><path d="M1497.1 304.7l20.8 20.8-20.8 20.8-20.8-20.8z"/><path d="M1524.1 287.3l20.8 20.8-20.8 20.8-20.8-20.8z"/><path d="M1508.7 302.8l20.8 20.8-20.8 20.8-20.8-20.8z"/><path d="M1512.5 312.4l20.8 20.8-20.8 20.8-20.8-20.8z"/><path d="M1502.9 297l20.8 20.8-20.8 20.8-20.8-20.8z"/><path d="M1518.3 295l20.8 20.8-20.8 20.8-20.8-20.8z"/><path d="M1506.8 329.8l20.8 20.8-20.8 20.8-20.8-20.8z"/><path d="M1493.2 322.1l20.8 20.8-20.8 20.8-20.8-20.8z"/><path d="M1529.9 314.3l20.8 20.8-20.8 20.8-20.8-20.8z"/><path d="M1539.6 436l20.8 20.8-20.8 20.8-20.8-20.8z"/><path d="M1555 430.2l20.8 20.8-20.8 20.8-20.8-20.8z"/><path d="M1423.7 325.9l20.8 20.8-20.8 20.8-20.8-20.8z"/><path d="M1450.8 349.1l20.8 20.8-20.8 20.8-20.8-20.8z"/><path d="M1487.5 352.9l20.8 20.8-20.8 20.8-20.8-20.8z"/><path d="M1533.8 352.9l20.8 20.8-20.8 20.8-20.8-20.8z"/><path d="M1414.1 401.2l20.8 20.8-20.8 20.8-20.8-20.8z"/><path d="M1261.6 491.9l20.8 20.8-20.8 20.8-20.8-20.8z"/><path d="M1280.9 497.7l20.8 20.8-20.8 20.8-20.8-20.8z"/><path d="M1365.8 436l20.8 20.8-20.8 20.8-20.8-20.8z"/><path d="M1342.7 457.2l20.8 20.8-20.8 20.8-20.8-20.8z"/><path d="M1443.1 362.6l20.8 20.8-20.8 20.8-20.8-20.8z"/><path d="M1466.2 364.5l20.8 20.8-20.8 20.8-20.8-20.8z"/><path d="M1501 345.2l20.8 20.8-20.8 20.8-20.8-20.8z"/><path d="M1516.4 339.4l20.8 20.8-20.8 20.8-20.8-20.8z"/><path d="M1185.1 552.1l20.8 20.8-20.8 20.8-20.8-20.8z"/><path d="M1197.7 573.3l20.8 20.8-20.8 20.8-20.8-20.8z"/><path d="M1030.7 653.4l20.8 20.8-20.8 20.8-20.8-20.8z"/><path d="M998.8 685.3l20.8 20.8-20.8 20.8-20.8-20.8z"/><path d="M930.3 690.1l20.8 20.8-20.8 20.8-20.8-20.8z"/><path d="M829 711.3l20.8 20.8-20.8 20.8-20.8-20.8z"/><path d="M850.2 737.4l20.8 20.8-20.8 20.8-20.8-20.8z"/><path d="M988.2 718.1l20.8 20.8-20.8 20.8-20.8-20.8z"/><path d="M1020.1 725.8l20.8 20.8-20.8 20.8-20.8-20.8z"/><path d="M1062.5 737.4l20.8 20.8-20.8 20.8-20.8-20.8z"/><path d="M1120.5 662.1l20.8 20.8-20.8 20.8-20.8-20.8z"/><path d="M1141.7 650.5l20.8 20.8-20.8 20.8-20.8-20.8z"/><path d="M1153.3 660.2l20.8 20.8-20.8 20.8-20.8-20.8z"/><path d="M1108.9 721.9l20.8 20.8-20.8 20.8-20.8-20.8z"/><path d="M1120.5 710.4l20.8 20.8-20.8 20.8-20.8-20.8z"/><path d="M950.6 752.8l20.8 20.8-20.8 20.8-20.8-20.8z"/><path d="M1101.2 749l20.8 20.8-20.8 20.8-20.8-20.8z"/><path d="M1143.6 750.9l20.8 20.8-20.8 20.8-20.8-20.8z"/><path d="M1166.8 689.1l20.8 20.8-20.8 20.8-20.8-20.8z"/><path d="M1186.1 721.9l20.8 20.8-20.8 20.8-20.8-20.8z"/><path d="M1238 1125.2l20.8 20.8-20.8 20.8-20.8-20.8z"/>
</g>
<g fill="#e00000" fill-opacity="0.1" stroke="#e00000" stroke-width="5.6" stroke-linejoin="round">
<path d="M585.4 1163.4h21.0v21.0h-21.0z"/><path d="M541.5 1353.4h21.0v21.0h-21.0z"/><path d="M582.9 1230.7h21.0v21.0h-21.0z"/><path d="M521.1 1325.6h21.0v21.0h-21.0z"/><path d="M531.8 1196.3h21.0v21.0h-21.0z"/><path d="M530.8 1259.6h21.0v21.0h-21.0z"/><path d="M535.4 1159.9h21.0v21.0h-21.0z"/><path d="M534.6 1286.6h21.0v21.0h-21.0z"/><path d="M546.3 1361.4h21.0v21.0h-21.0z"/><path d="M571.8 1287.3h21.0v21.0h-21.0z"/><path d="M652.3 1110.8h21.0v21.0h-21.0z"/><path d="M573.8 1243.9h21.0v21.0h-21.0z"/><path d="M543.8 1213.9h21.0v21.0h-21.0z"/><path d="M580.1 1198.2h21.0v21.0h-21.0z"/><path d="M469.7 1242.4h21.0v21.0h-21.0z"/><path d="M539.3 1243.4h21.0v21.0h-21.0z"/><path d="M611.1 1214.5h21.0v21.0h-21.0z"/><path d="M545.7 1245.7h21.0v21.0h-21.0z"/><path d="M512.3 1334h21.0v21.0h-21.0z"/><path d="M516 1174.2h21.0v21.0h-21.0z"/><path d="M581.1 1263.3h21.0v21.0h-21.0z"/><path d="M508 1334.7h21.0v21.0h-21.0z"/><path d="M468.9 1329.8h21.0v21.0h-21.0z"/><path d="M420.8 1334.4h21.0v21.0h-21.0z"/><path d="M560.2 1164.1h21.0v21.0h-21.0z"/><path d="M493.9 1346.3h21.0v21.0h-21.0z"/><path d="M547.7 1233.8h21.0v21.0h-21.0z"/><path d="M616.5 1163.9h21.0v21.0h-21.0z"/><path d="M485.1 1327.3h21.0v21.0h-21.0z"/><path d="M521.1 1343.5h21.0v21.0h-21.0z"/><path d="M431.1 1315.8h21.0v21.0h-21.0z"/><path d="M550 1373.4h21.0v21.0h-21.0z"/><path d="M531 1295h21.0v21.0h-21.0z"/><path d="M510.2 1308.7h21.0v21.0h-21.0z"/><path d="M466.9 1252.8h21.0v21.0h-21.0z"/><path d="M505.3 1355.6h21.0v21.0h-21.0z"/><path d="M590.5 1114h21.0v21.0h-21.0z"/><path d="M486.5 1291.3h21.0v21.0h-21.0z"/><path d="M449.2 1308h21.0v21.0h-21.0z"/><path d="M498.7 1234.2h21.0v21.0h-21.0z"/><path d="M581.6 1120.1h21.0v21.0h-21.0z"/><path d="M625.5 1158.7h21.0v21.0h-21.0z"/><path d="M490.9 1282h21.0v21.0h-21.0z"/><path d="M635.7 1194.9h21.0v21.0h-21.0z"/><path d="M546.4 1173.4h21.0v21.0h-21.0z"/><path d="M493 1341.2h21.0v21.0h-21.0z"/><path d="M561.5 1312.1h21.0v21.0h-21.0z"/><path d="M470.3 1345.6h21.0v21.0h-21.0z"/><path d="M514 1242.9h21.0v21.0h-21.0z"/><path d="M486.3 1273.8h21.0v21.0h-21.0z"/><path d="M550.8 1205.4h21.0v21.0h-21.0z"/><path d="M623.8 1127.2h21.0v21.0h-21.0z"/><path d="M449.2 1327.6h21.0v21.0h-21.0z"/><path d="M547.8 1312.3h21.0v21.0h-21.0z"/><path d="M519.6 1185.1h21.0v21.0h-21.0z"/><path d="M594.7 1227h21.0v21.0h-21.0z"/><path d="M553.4 1343.4h21.0v21.0h-21.0z"/><path d="M506.5 1314.9h21.0v21.0h-21.0z"/><path d="M640.9 1151.6h21.0v21.0h-21.0z"/><path d="M618 1203.6h21.0v21.0h-21.0z"/><path d="M633.8 1144.8h21.0v21.0h-21.0z"/><path d="M572.1 1311.5h21.0v21.0h-21.0z"/><path d="M607.3 1163.6h21.0v21.0h-21.0z"/><path d="M591.2 1104.1h21.0v21.0h-21.0z"/><path d="M569.3 1262.4h21.0v21.0h-21.0z"/><path d="M516.2 1230.9h21.0v21.0h-21.0z"/><path d="M482 1358.3h21.0v21.0h-21.0z"/><path d="M548.6 1304.1h21.0v21.0h-21.0z"/><path d="M576.8 1189.7h21.0v21.0h-21.0z"/><path d="M532.5 1228.8h21.0v21.0h-21.0z"/><path d="M626.5 1100.3h21.0v21.0h-21.0z"/><path d="M596.3 1187.1h21.0v21.0h-21.0z"/><path d="M635 1220.4h21.0v21.0h-21.0z"/><path d="M615.3 1114.2h21.0v21.0h-21.0z"/><path d="M506 1200.8h21.0v21.0h-21.0z"/><path d="M512.9 1246.1h21.0v21.0h-21.0z"/><path d="M536.5 1327h21.0v21.0h-21.0z"/><path d="M610.5 1128.3h21.0v21.0h-21.0z"/><path d="M591.5 1167.5h21.0v21.0h-21.0z"/><path d="M534.8 1203.4h21.0v21.0h-21.0z"/><path d="M510.1 1299.3h21.0v21.0h-21.0z"/><path d="M537.2 1356.1h21.0v21.0h-21.0z"/><path d="M428.2 1347.3h21.0v21.0h-21.0z"/><path d="M553.3 1187.4h21.0v21.0h-21.0z"/><path d="M473.4 1298.7h21.0v21.0h-21.0z"/><path d="M492.2 1314.2h21.0v21.0h-21.0z"/><path d="M573.1 1217.7h21.0v21.0h-21.0z"/><path d="M651.3 1161.9h21.0v21.0h-21.0z"/><path d="M418.1 1337.2h21.0v21.0h-21.0z"/><path d="M563.4 1181.2h21.0v21.0h-21.0z"/><path d="M459 1300.6h21.0v21.0h-21.0z"/><path d="M491.8 1224.8h21.0v21.0h-21.0z"/><path d="M595.8 1199.5h21.0v21.0h-21.0z"/><path d="M502.4 1262.9h21.0v21.0h-21.0z"/><path d="M614.5 1120.7h21.0v21.0h-21.0z"/><path d="M558.6 1311.7h21.0v21.0h-21.0z"/><path d="M621.2 1211.4h21.0v21.0h-21.0z"/><path d="M553.1 1349.6h21.0v21.0h-21.0z"/><path d="M534.5 1206.5h21.0v21.0h-21.0z"/><path d="M606.9 1179.7h21.0v21.0h-21.0z"/><path d="M556.4 1172.7h21.0v21.0h-21.0z"/><path d="M528 1318.7h21.0v21.0h-21.0z"/><path d="M444.9 1300.6h21.0v21.0h-21.0z"/><path d="M468.9 1334.9h21.0v21.0h-21.0z"/><path d="M549.4 1231.4h21.0v21.0h-21.0z"/><path d="M597.4 1157.6h21.0v21.0h-21.0z"/><path d="M569.7 1139.5h21.0v21.0h-21.0z"/><path d="M522.7 1217.1h21.0v21.0h-21.0z"/><path d="M523.5 1271.2h21.0v21.0h-21.0z"/><path d="M530.5 1357h21.0v21.0h-21.0z"/><path d="M551.2 1244.8h21.0v21.0h-21.0z"/><path d="M571.9 1136.1h21.0v21.0h-21.0z"/><path d="M609.7 1105.4h21.0v21.0h-21.0z"/><path d="M605.8 1188h21.0v21.0h-21.0z"/><path d="M478 1304h21.0v21.0h-21.0z"/><path d="M658 1119.2h21.0v21.0h-21.0z"/><path d="M506.6 1223.2h21.0v21.0h-21.0z"/><path d="M428.8 1322.3h21.0v21.0h-21.0z"/><path d="M564.5 1206.3h21.0v21.0h-21.0z"/><path d="M568.4 1172.7h21.0v21.0h-21.0z"/><path d="M625.3 1134.4h21.0v21.0h-21.0z"/><path d="M590.3 1196.1h21.0v21.0h-21.0z"/><path d="M525.1 1189.2h21.0v21.0h-21.0z"/><path d="M547.4 1153h21.0v21.0h-21.0z"/><path d="M490.8 1357.6h21.0v21.0h-21.0z"/><path d="M454.7 1336.5h21.0v21.0h-21.0z"/><path d="M479 1255.5h21.0v21.0h-21.0z"/><path d="M570.6 1202.9h21.0v21.0h-21.0z"/><path d="M599.7 1177.2h21.0v21.0h-21.0z"/><path d="M599.5 1116.7h21.0v21.0h-21.0z"/><path d="M601.5 1223.8h21.0v21.0h-21.0z"/><path d="M628.1 1213.7h21.0v21.0h-21.0z"/><path d="M500.7 1194.4h21.0v21.0h-21.0z"/><path d="M588.2 1155.3h21.0v21.0h-21.0z"/><path d="M524.8 1314h21.0v21.0h-21.0z"/><path d="M488.2 1241.8h21.0v21.0h-21.0z"/><path d="M636.1 1231.1h21.0v21.0h-21.0z"/><path d="M526.4 1182.1h21.0v21.0h-21.0z"/><path d="M623.4 1220.2h21.0v21.0h-21.0z"/><path d="M554.7 1146.1h21.0v21.0h-21.0z"/><path d="M540.5 1318.8h21.0v21.0h-21.0z"/><path d="M531.9 1274.8h21.0v21.0h-21.0z"/><path d="M607.3 1203.5h21.0v21.0h-21.0z"/><path d="M579.9 1268.2h21.0v21.0h-21.0z"/><path d="M585 1207.1h21.0v21.0h-21.0z"/><path d="M652 1105.4h21.0v21.0h-21.0z"/><path d="M647 1113.1h21.0v21.0h-21.0z"/><path d="M432 1326.5h21.0v21.0h-21.0z"/><path d="M565.2 1115h21.0v21.0h-21.0z"/><path d="M510.5 1292.3h21.0v21.0h-21.0z"/><path d="M450.5 1255.4h21.0v21.0h-21.0z"/><path d="M533.1 1280.9h21.0v21.0h-21.0z"/><path d="M484.4 1341.4h21.0v21.0h-21.0z"/><path d="M581.1 1151.9h21.0v21.0h-21.0z"/><path d="M556.4 1322h21.0v21.0h-21.0z"/><path d="M510.1 1216.9h21.0v21.0h-21.0z"/><path d="M560.8 1272.5h21.0v21.0h-21.0z"/><path d="M545.2 1190.1h21.0v21.0h-21.0z"/><path d="M433.5 1303h21.0v21.0h-21.0z"/><path d="M488.6 1305.7h21.0v21.0h-21.0z"/><path d="M556.5 1266.2h21.0v21.0h-21.0z"/><path d="M612.4 1230h21.0v21.0h-21.0z"/><path d="M474.1 1265.5h21.0v21.0h-21.0z"/><path d="M574.9 1126.9h21.0v21.0h-21.0z"/><path d="M483 1228.9h21.0v21.0h-21.0z"/><path d="M448.8 1315h21.0v21.0h-21.0z"/><path d="M465.4 1267.6h21.0v21.0h-21.0z"/><path d="M534.5 1185.1h21.0v21.0h-21.0z"/><path d="M499.5 1209.6h21.0v21.0h-21.0z"/><path d="M533.6 1177.2h21.0v21.0h-21.0z"/><path d="M510.4 1353.5h21.0v21.0h-21.0z"/><path d="M634.7 1150.8h21.0v21.0h-21.0z"/><path d="M546.8 1145.6h21.0v21.0h-21.0z"/><path d="M634.6 1124.4h21.0v21.0h-21.0z"/><path d="M522.7 1276.7h21.0v21.0h-21.0z"/><path d="M488.4 1345.2h21.0v21.0h-21.0z"/><path d="M500.2 1296.4h21.0v21.0h-21.0z"/><path d="M514.1 1204.1h21.0v21.0h-21.0z"/><path d="M558 1155.4h21.0v21.0h-21.0z"/><path d="M510.4 1206.5h21.0v21.0h-21.0z"/><path d="M542.7 1364.7h21.0v21.0h-21.0z"/><path d="M592.5 1161.2h21.0v21.0h-21.0z"/><path d="M476.8 1332.3h21.0v21.0h-21.0z"/><path d="M447.9 1268.7h21.0v21.0h-21.0z"/><path d="M564.6 1302.2h21.0v21.0h-21.0z"/><path d="M519.3 1165.1h21.0v21.0h-21.0z"/><path d="M574.1 1277.8h21.0v21.0h-21.0z"/><path d="M460 1292.8h21.0v21.0h-21.0z"/><path d="M559.4 1126.8h21.0v21.0h-21.0z"/><path d="M573.1 1168.1h21.0v21.0h-21.0z"/><path d="M523.7 1293.5h21.0v21.0h-21.0z"/><path d="M570.7 1299.9h21.0v21.0h-21.0z"/><path d="M659.4 1149.6h21.0v21.0h-21.0z"/><path d="M551.7 1264.4h21.0v21.0h-21.0z"/><path d="M547 1158.3h21.0v21.0h-21.0z"/><path d="M559.1 1252.8h21.0v21.0h-21.0z"/><path d="M653.6 1126.2h21.0v21.0h-21.0z"/><path d="M581.2 1143.1h21.0v21.0h-21.0z"/><path d="M533.4 1222.3h21.0v21.0h-21.0z"/><path d="M563.1 1264.7h21.0v21.0h-21.0z"/><path d="M550.1 1294.6h21.0v21.0h-21.0z"/><path d="M496.9 1303.5h21.0v21.0h-21.0z"/><path d="M597.9 1126.8h21.0v21.0h-21.0z"/><path d="M574.8 1233.2h21.0v21.0h-21.0z"/><path d="M484.2 1252.8h21.0v21.0h-21.0z"/><path d="M520.3 1252.1h21.0v21.0h-21.0z"/><path d="M638.6 1164.1h21.0v21.0h-21.0z"/><path d="M439.3 1331.1h21.0v21.0h-21.0z"/><path d="M455.3 1348.9h21.0v21.0h-21.0z"/><path d="M550.6 1284.2h21.0v21.0h-21.0z"/><path d="M444.2 1312.9h21.0v21.0h-21.0z"/><path d="M513.1 1187.7h21.0v21.0h-21.0z"/><path d="M458.6 1278.3h21.0v21.0h-21.0z"/><path d="M569.5 1291.3h21.0v21.0h-21.0z"/><path d="M547.3 1183.4h21.0v21.0h-21.0z"/><path d="M540.8 1266.2h21.0v21.0h-21.0z"/><path d="M539 1257.8h21.0v21.0h-21.0z"/><path d="M449.2 1337.8h21.0v21.0h-21.0z"/><path d="M599.8 1187.6h21.0v21.0h-21.0z"/><path d="M628.5 1113.2h21.0v21.0h-21.0z"/><path d="M568.7 1316.5h21.0v21.0h-21.0z"/><path d="M511.4 1262h21.0v21.0h-21.0z"/><path d="M504.3 1344.2h21.0v21.0h-21.0z"/><path d="M509.8 1339.3h21.0v21.0h-21.0z"/><path d="M568.5 1212.6h21.0v21.0h-21.0z"/><path d="M502.5 1328.3h21.0v21.0h-21.0z"/><path d="M509.9 1227.2h21.0v21.0h-21.0z"/><path d="M566.8 1155.2h21.0v21.0h-21.0z"/><path d="M582.9 1178.2h21.0v21.0h-21.0z"/><path d="M599.9 1216.4h21.0v21.0h-21.0z"/><path d="M556.1 1325.5h21.0v21.0h-21.0z"/><path d="M496.7 1305.6h21.0v21.0h-21.0z"/><path d="M505.4 1372.7h21.0v21.0h-21.0z"/><path d="M559.6 1241.7h21.0v21.0h-21.0z"/><path d="M436.9 1340.5h21.0v21.0h-21.0z"/><path d="M615.9 1100.6h21.0v21.0h-21.0z"/><path d="M573.3 1111.1h21.0v21.0h-21.0z"/><path d="M481.6 1245.2h21.0v21.0h-21.0z"/><path d="M654.6 1140.4h21.0v21.0h-21.0z"/><path d="M467.7 1353.3h21.0v21.0h-21.0z"/><path d="M465.2 1282.1h21.0v21.0h-21.0z"/><path d="M549.6 1319.7h21.0v21.0h-21.0z"/><path d="M528.7 1336.7h21.0v21.0h-21.0z"/><path d="M538.3 1342.9h21.0v21.0h-21.0z"/><path d="M494.7 1265.6h21.0v21.0h-21.0z"/><path d="M482.6 1225.1h21.0v21.0h-21.0z"/><path d="M525.9 1241.5h21.0v21.0h-21.0z"/><path d="M562.9 1327.2h21.0v21.0h-21.0z"/><path d="M517.4 1284.8h21.0v21.0h-21.0z"/><path d="M532.2 1312.4h21.0v21.0h-21.0z"/><path d="M620 1190.1h21.0v21.0h-21.0z"/><path d="M498.1 1250.8h21.0v21.0h-21.0z"/><path d="M623.3 1145.1h21.0v21.0h-21.0z"/><path d="M453.1 1294.8h21.0v21.0h-21.0z"/><path d="M492.6 1260.2h21.0v21.0h-21.0z"/><path d="M563.9 1131.1h21.0v21.0h-21.0z"/><path d="M468.9 1304.9h21.0v21.0h-21.0z"/><path d="M526 1205.3h21.0v21.0h-21.0z"/><path d="M614.4 1177.6h21.0v21.0h-21.0z"/><path d="M649.1 1135.3h21.0v21.0h-21.0z"/><path d="M555.8 1212.8h21.0v21.0h-21.0z"/><path d="M533.4 1364h21.0v21.0h-21.0z"/><path d="M586.3 1107.8h21.0v21.0h-21.0z"/><path d="M550.6 1217.5h21.0v21.0h-21.0z"/><path d="M597 1223.4h21.0v21.0h-21.0z"/><path d="M479.1 1281.1h21.0v21.0h-21.0z"/><path d="M484.8 1264.9h21.0v21.0h-21.0z"/><path d="M513.3 1173.4h21.0v21.0h-21.0z"/><path d="M516.8 1208.1h21.0v21.0h-21.0z"/><path d="M503.7 1245.2h21.0v21.0h-21.0z"/><path d="M577.2 1284.5h21.0v21.0h-21.0z"/><path d="M584.8 1216.3h21.0v21.0h-21.0z"/><path d="M478 1291h21.0v21.0h-21.0z"/><path d="M615.5 1222.3h21.0v21.0h-21.0z"/><path d="M570.2 1159.5h21.0v21.0h-21.0z"/><path d="M477.8 1271.8h21.0v21.0h-21.0z"/><path d="M576.7 1253.5h21.0v21.0h-21.0z"/><path d="M457.2 1317.9h21.0v21.0h-21.0z"/><path d="M593 1143.9h21.0v21.0h-21.0z"/><path d="M619.3 1228.5h21.0v21.0h-21.0z"/><path d="M484.6 1321.6h21.0v21.0h-21.0z"/><path d="M622.8 1202.2h21.0v21.0h-21.0z"/><path d="M596.2 1132.5h21.0v21.0h-21.0z"/><path d="M577.9 1210.3h21.0v21.0h-21.0z"/><path d="M625.2 1112.1h21.0v21.0h-21.0z"/><path d="M565.3 1255.2h21.0v21.0h-21.0z"/><path d="M609.4 1154.4h21.0v21.0h-21.0z"/><path d="M583.5 1133.9h21.0v21.0h-21.0z"/><path d="M495.1 1203.2h21.0v21.0h-21.0z"/><path d="M619.2 1157.5h21.0v21.0h-21.0z"/><path d="M527 1250.6h21.0v21.0h-21.0z"/><path d="M603.5 1147.2h21.0v21.0h-21.0z"/><path d="M496.9 1285.1h21.0v21.0h-21.0z"/><path d="M518.2 1367.7h21.0v21.0h-21.0z"/><path d="M616.6 1145.6h21.0v21.0h-21.0z"/><path d="M629.1 1134.1h21.0v21.0h-21.0z"/><path d="M659 1131.5h21.0v21.0h-21.0z"/><path d="M470.3 1313.5h21.0v21.0h-21.0z"/><path d="M470.6 1322h21.0v21.0h-21.0z"/><path d="M575.4 1180.5h21.0v21.0h-21.0z"/><path d="M517.5 1314.1h21.0v21.0h-21.0z"/><path d="M556.5 1280h21.0v21.0h-21.0z"/><path d="M606.2 1174.8h21.0v21.0h-21.0z"/><path d="M461.5 1260h21.0v21.0h-21.0z"/><path d="M562.3 1224.5h21.0v21.0h-21.0z"/><path d="M601.1 1123.1h21.0v21.0h-21.0z"/><path d="M499.9 1276.5h21.0v21.0h-21.0z"/><path d="M563.4 1235.3h21.0v21.0h-21.0z"/><path d="M508.8 1274.9h21.0v21.0h-21.0z"/><path d="M451.2 1255.9h21.0v21.0h-21.0z"/><path d="M547.6 1324.8h21.0v21.0h-21.0z"/><path d="M528.3 1349.7h21.0v21.0h-21.0z"/><path d="M625.3 1186.6h21.0v21.0h-21.0z"/><path d="M561 1196.9h21.0v21.0h-21.0z"/><path d="M537 1299.3h21.0v21.0h-21.0z"/><path d="M540.8 1285.9h21.0v21.0h-21.0z"/><path d="M624.1 1174.5h21.0v21.0h-21.0z"/><path d="M513.1 1146.2h21.0v21.0h-21.0z"/><path d="M476.4 1183.8h21.0v21.0h-21.0z"/><path d="M684.9 1161.6h21.0v21.0h-21.0z"/><path d="M684.9 1183.8h21.0v21.0h-21.0z"/><path d="M715.8 1146.2h21.0v21.0h-21.0z"/><path d="M727.3 1121.1h21.0v21.0h-21.0z"/><path d="M750.5 1123h21.0v21.0h-21.0z"/><path d="M706.1 1209.9h21.0v21.0h-21.0z"/><path d="M737 1214.7h21.0v21.0h-21.0z"/><path d="M770.8 1221.5h21.0v21.0h-21.0z"/><path d="M628.9 1233.1h21.0v21.0h-21.0z"/><path d="M684.9 1262h21.0v21.0h-21.0z"/><path d="M663.6 1274.6h21.0v21.0h-21.0z"/><path d="M679.1 1286.1h21.0v21.0h-21.0z"/><path d="M759.2 1263.9h21.0v21.0h-21.0z"/><path d="M610.5 1297.7h21.0v21.0h-21.0z"/><path d="M727.3 1317h21.0v21.0h-21.0z"/><path d="M611.5 1331.5h21.0v21.0h-21.0z"/><path d="M598 1345h21.0v21.0h-21.0z"/><path d="M706.1 1354.7h21.0v21.0h-21.0z"/><path d="M428.1 1279.4h21.0v21.0h-21.0z"/><path d="M433.9 1289h21.0v21.0h-21.0z"/><path d="M555.5 1368.2h21.0v21.0h-21.0z"/><path d="M704.2 913.1h21.0v21.0h-21.0z"/><path d="M721.5 940.2h21.0v21.0h-21.0z"/><path d="M752.4 936.3h21.0v21.0h-21.0z"/><path d="M767.9 918.9h21.0v21.0h-21.0z"/><path d="M789.1 884.2h21.0v21.0h-21.0z"/><path d="M642.4 999.1h21.0v21.0h-21.0z"/><path d="M679.1 992.3h21.0v21.0h-21.0z"/><path d="M677.1 1009.7h21.0v21.0h-21.0z"/><path d="M590.3 1015.5h21.0v21.0h-21.0z"/><path d="M563.2 1036.7h21.0v21.0h-21.0z"/><path d="M615.4 1013.5h21.0v21.0h-21.0z"/><path d="M542 1071.4h21.0v21.0h-21.0z"/><path d="M547.8 1092.7h21.0v21.0h-21.0z"/><path d="M588.3 1059.9h21.0v21.0h-21.0z"/><path d="M632.7 1025.1h21.0v21.0h-21.0z"/><path d="M648.2 1023.2h21.0v21.0h-21.0z"/><path d="M682.9 1027h21.0v21.0h-21.0z"/><path d="M733.1 995.2h21.0v21.0h-21.0z"/><path d="M773.7 1009.7h21.0v21.0h-21.0z"/><path d="M754.4 1027h21.0v21.0h-21.0z"/><path d="M737 1057.9h21.0v21.0h-21.0z"/><path d="M785.3 1050.2h21.0v21.0h-21.0z"/><path d="M785.3 1073.4h21.0v21.0h-21.0z"/><path d="M756.3 982.6h21.0v21.0h-21.0z"/><path d="M694.5 1088.8h21.0v21.0h-21.0z"/><path d="M686.8 1096.5h21.0v21.0h-21.0z"/><path d="M729.3 1104.3h21.0v21.0h-21.0z"/><path d="M659.8 1065.7h21.0v21.0h-21.0z"/><path d="M627 1054.1h21.0v21.0h-21.0z"/><path d="M824.2 1115.3h21.0v21.0h-21.0z"/><path d="M839.7 1134.6h21.0v21.0h-21.0z"/><path d="M839.7 1157.8h21.0v21.0h-21.0z"/><path d="M839.7 1211.8h21.0v21.0h-21.0z"/><path d="M1038.5 1157.8h21.0v21.0h-21.0z"/><path d="M835.8 779.9h21.0v21.0h-21.0z"/><path d="M812.7 796.4h21.0v21.0h-21.0z"/><path d="M818.5 823.4h21.0v21.0h-21.0z"/><path d="M860.9 855.2h21.0v21.0h-21.0z"/><path d="M801.1 882.3h21.0v21.0h-21.0z"/><path d="M849.3 886.1h21.0v21.0h-21.0z"/><path d="M866.7 897.7h21.0v21.0h-21.0z"/><path d="M882.2 890h21.0v21.0h-21.0z"/><path d="M924.6 891.9h21.0v21.0h-21.0z"/><path d="M976.8 851.4h21.0v21.0h-21.0z"/><path d="M999.9 812.8h21.0v21.0h-21.0z"/><path d="M1030.8 816.6h21.0v21.0h-21.0z"/><path d="M1032.7 830.1h21.0v21.0h-21.0z"/><path d="M999.9 866.8h21.0v21.0h-21.0z"/><path d="M1034.7 903.5h21.0v21.0h-21.0z"/><path d="M967.1 934.4h21.0v21.0h-21.0z"/><path d="M882.2 940.2h21.0v21.0h-21.0z"/><path d="M888 946h21.0v21.0h-21.0z"/><path d="M936.2 949.8h21.0v21.0h-21.0z"/><path d="M1003.8 955.6h21.0v21.0h-21.0z"/><path d="M1032.7 934.4h21.0v21.0h-21.0z"/><path d="M806.9 988.4h21.0v21.0h-21.0z"/><path d="M828.1 998.1h21.0v21.0h-21.0z"/><path d="M853.2 999.1h21.0v21.0h-21.0z"/><path d="M866.7 994.2h21.0v21.0h-21.0z"/><path d="M864.8 996.2h21.0v21.0h-21.0z"/><path d="M868.7 992.3h21.0v21.0h-21.0z"/><path d="M878.3 998.1h21.0v21.0h-21.0z"/><path d="M956.5 1003.9h21.0v21.0h-21.0z"/><path d="M934.3 1015.5h21.0v21.0h-21.0z"/><path d="M913.1 1025.1h21.0v21.0h-21.0z"/><path d="M818.5 1040.6h21.0v21.0h-21.0z"/><path d="M928.5 1040.6h21.0v21.0h-21.0z"/><path d="M924.6 1063.7h21.0v21.0h-21.0z"/><path d="M992.2 1030.9h21.0v21.0h-21.0z"/><path d="M988.3 1054.1h21.0v21.0h-21.0z"/><path d="M998 1054.1h21.0v21.0h-21.0z"/><path d="M1009.6 1007.7h21.0v21.0h-21.0z"/><path d="M1021.2 1015.5h21.0v21.0h-21.0z"/><path d="M934.3 772.2h21.0v21.0h-21.0z"/><path d="M972.9 764.5h21.0v21.0h-21.0z"/><path d="M1005.7 772.2h21.0v21.0h-21.0z"/><path d="M1075.2 772.2h21.0v21.0h-21.0z"/><path d="M822.3 1108.1h21.0v21.0h-21.0z"/><path d="M1137.5 834.3h21.0v21.0h-21.0z"/><path d="M1167.1 971.8h21.0v21.0h-21.0z"/><path d="M1136 772.5h21.0v21.0h-21.0z"/><path d="M1161.9 959.6h21.0v21.0h-21.0z"/><path d="M1120 971.3h21.0v21.0h-21.0z"/><path d="M1099.9 873h21.0v21.0h-21.0z"/><path d="M1079.9 1080h21.0v21.0h-21.0z"/><path d="M1191.9 896.5h21.0v21.0h-21.0z"/><path d="M1182.9 928.3h21.0v21.0h-21.0z"/><path d="M1291.6 765.9h21.0v21.0h-21.0z"/><path d="M1050.4 1043.1h21.0v21.0h-21.0z"/><path d="M1167.6 813h21.0v21.0h-21.0z"/><path d="M1222.6 895.4h21.0v21.0h-21.0z"/><path d="M1109.2 768.3h21.0v21.0h-21.0z"/><path d="M1263.8 880.7h21.0v21.0h-21.0z"/><path d="M1095.1 954.6h21.0v21.0h-21.0z"/><path d="M1241.6 810.5h21.0v21.0h-21.0z"/><path d="M1222.5 845.8h21.0v21.0h-21.0z"/><path d="M1172.2 930.7h21.0v21.0h-21.0z"/><path d="M1082.5 1065.3h21.0v21.0h-21.0z"/><path d="M1132 1031.3h21.0v21.0h-21.0z"/><path d="M1248.7 787h21.0v21.0h-21.0z"/><path d="M1037.4 1023.3h21.0v21.0h-21.0z"/><path d="M1303.7 779.9h21.0v21.0h-21.0z"/><path d="M1259.4 902.4h21.0v21.0h-21.0z"/><path d="M1073.1 964.4h21.0v21.0h-21.0z"/><path d="M1163.2 1014.6h21.0v21.0h-21.0z"/><path d="M1192.2 974.5h21.0v21.0h-21.0z"/><path d="M1236.6 958.6h21.0v21.0h-21.0z"/><path d="M1088 774.4h21.0v21.0h-21.0z"/><path d="M1260.8 861.2h21.0v21.0h-21.0z"/><path d="M1250.9 965h21.0v21.0h-21.0z"/><path d="M1119.1 892.4h21.0v21.0h-21.0z"/><path d="M1211.9 1007.7h21.0v21.0h-21.0z"/><path d="M1110.9 1011.3h21.0v21.0h-21.0z"/><path d="M1097.4 987.7h21.0v21.0h-21.0z"/><path d="M1100.8 979.6h21.0v21.0h-21.0z"/><path d="M1144.1 816.2h21.0v21.0h-21.0z"/><path d="M1092.3 1043.7h21.0v21.0h-21.0z"/><path d="M1180.5 780h21.0v21.0h-21.0z"/><path d="M1199.9 1046.7h21.0v21.0h-21.0z"/><path d="M1115.7 939.9h21.0v21.0h-21.0z"/><path d="M1126.5 844.1h21.0v21.0h-21.0z"/><path d="M1147.9 978.5h21.0v21.0h-21.0z"/><path d="M1173.7 946.7h21.0v21.0h-21.0z"/><path d="M1087.8 794h21.0v21.0h-21.0z"/><path d="M1125.1 958.5h21.0v21.0h-21.0z"/><path d="M1231.9 975.7h21.0v21.0h-21.0z"/><path d="M1218.3 942.7h21.0v21.0h-21.0z"/><path d="M1076.6 996.4h21.0v21.0h-21.0z"/><path d="M1061.2 1015.3h21.0v21.0h-21.0z"/><path d="M1239.4 817.3h21.0v21.0h-21.0z"/><path d="M1163.7 869.9h21.0v21.0h-21.0z"/><path d="M1184.5 863.7h21.0v21.0h-21.0z"/><path d="M1054.5 1018.9h21.0v21.0h-21.0z"/><path d="M1198.1 911.4h21.0v21.0h-21.0z"/><path d="M1173.7 858h21.0v21.0h-21.0z"/><path d="M1134.1 782.2h21.0v21.0h-21.0z"/><path d="M1127.3 1030.4h21.0v21.0h-21.0z"/><path d="M1040.7 1002h21.0v21.0h-21.0z"/><path d="M1113.8 902.5h21.0v21.0h-21.0z"/><path d="M1176.3 882.9h21.0v21.0h-21.0z"/><path d="M1168.8 819.6h21.0v21.0h-21.0z"/><path d="M1215.3 1040h21.0v21.0h-21.0z"/><path d="M1184 813.7h21.0v21.0h-21.0z"/><path d="M1050.9 1069.9h21.0v21.0h-21.0z"/><path d="M1237.3 832h21.0v21.0h-21.0z"/><path d="M1093.7 1002.5h21.0v21.0h-21.0z"/><path d="M1257.8 822.9h21.0v21.0h-21.0z"/><path d="M1052.2 919h21.0v21.0h-21.0z"/><path d="M1280.3 865.5h21.0v21.0h-21.0z"/><path d="M1237.4 858.5h21.0v21.0h-21.0z"/><path d="M1148.4 1007.7h21.0v21.0h-21.0z"/><path d="M1097.8 826.5h21.0v21.0h-21.0z"/><path d="M1173.6 769.8h21.0v21.0h-21.0z"/><path d="M1219.5 812.3h21.0v21.0h-21.0z"/><path d="M1260.6 800.8h21.0v21.0h-21.0z"/><path d="M1317.2 774.4h21.0v21.0h-21.0z"/><path d="M1085.5 936.7h21.0v21.0h-21.0z"/><path d="M1280.7 884.8h21.0v21.0h-21.0z"/><path d="M1267.8 813.5h21.0v21.0h-21.0z"/><path d="M1213.8 819.7h21.0v21.0h-21.0z"/><path d="M1018.8 1013.3h21.0v21.0h-21.0z"/><path d="M1071.8 1027.1h21.0v21.0h-21.0z"/><path d="M1179.2 910.9h21.0v21.0h-21.0z"/><path d="M1217.9 943.1h21.0v21.0h-21.0z"/><path d="M1099.3 919h21.0v21.0h-21.0z"/><path d="M1279 845h21.0v21.0h-21.0z"/><path d="M1201.2 763.7h21.0v21.0h-21.0z"/><path d="M1100 790.6h21.0v21.0h-21.0z"/><path d="M1292.5 811.5h21.0v21.0h-21.0z"/><path d="M1304.9 828.9h21.0v21.0h-21.0z"/><path d="M1125.8 854.4h21.0v21.0h-21.0z"/><path d="M1161.1 839.7h21.0v21.0h-21.0z"/><path d="M1205.7 971.9h21.0v21.0h-21.0z"/><path d="M1142 961.2h21.0v21.0h-21.0z"/><path d="M1152 1036.5h21.0v21.0h-21.0z"/><path d="M1220.1 860.1h21.0v21.0h-21.0z"/><path d="M1260.9 811.2h21.0v21.0h-21.0z"/><path d="M1244.9 800.4h21.0v21.0h-21.0z"/><path d="M1151.4 845.4h21.0v21.0h-21.0z"/><path d="M1171.2 905.9h21.0v21.0h-21.0z"/><path d="M1124.7 818.2h21.0v21.0h-21.0z"/><path d="M1178.6 901.1h21.0v21.0h-21.0z"/><path d="M1270.7 902.4h21.0v21.0h-21.0z"/><path d="M1167 897h21.0v21.0h-21.0z"/><path d="M1257.8 793.9h21.0v21.0h-21.0z"/><path d="M1281.8 807.9h21.0v21.0h-21.0z"/><path d="M1149.4 863.7h21.0v21.0h-21.0z"/><path d="M1247.6 938.7h21.0v21.0h-21.0z"/><path d="M1141.7 836.4h21.0v21.0h-21.0z"/><path d="M1115 892.3h21.0v21.0h-21.0z"/><path d="M1210.1 816.5h21.0v21.0h-21.0z"/><path d="M1132.9 941.4h21.0v21.0h-21.0z"/><path d="M1229.4 921h21.0v21.0h-21.0z"/><path d="M1284.7 869.4h21.0v21.0h-21.0z"/><path d="M1127.9 869.2h21.0v21.0h-21.0z"/><path d="M1134.1 861.2h21.0v21.0h-21.0z"/><path d="M1158.9 842.2h21.0v21.0h-21.0z"/><path d="M1259.8 774.6h21.0v21.0h-21.0z"/><path d="M1251.4 829.7h21.0v21.0h-21.0z"/><path d="M1211.1 850h21.0v21.0h-21.0z"/><path d="M1231.8 907h21.0v21.0h-21.0z"/><path d="M1232.1 806h21.0v21.0h-21.0z"/><path d="M1236.1 783.5h21.0v21.0h-21.0z"/><path d="M1208.8 974.4h21.0v21.0h-21.0z"/><path d="M1215.3 874.8h21.0v21.0h-21.0z"/><path d="M1111.5 926.3h21.0v21.0h-21.0z"/><path d="M1246 912.5h21.0v21.0h-21.0z"/><path d="M1301.1 790.2h21.0v21.0h-21.0z"/><path d="M1103.9 894.2h21.0v21.0h-21.0z"/><path d="M1179.9 937.5h21.0v21.0h-21.0z"/><path d="M1292.8 766.7h21.0v21.0h-21.0z"/><path d="M1198.4 845.3h21.0v21.0h-21.0z"/><path d="M1127 770h21.0v21.0h-21.0z"/><path d="M1156.9 945.7h21.0v21.0h-21.0z"/><path d="M1111.8 943.1h21.0v21.0h-21.0z"/><path d="M1175.5 761.2h21.0v21.0h-21.0z"/><path d="M1162.6 820.8h21.0v21.0h-21.0z"/><path d="M1271.7 871.1h21.0v21.0h-21.0z"/><path d="M1116.5 937.8h21.0v21.0h-21.0z"/><path d="M1320.1 767.1h21.0v21.0h-21.0z"/><path d="M1269.6 766.6h21.0v21.0h-21.0z"/><path d="M1290.7 841.4h21.0v21.0h-21.0z"/><path d="M1233.8 867.9h21.0v21.0h-21.0z"/><path d="M1258.8 765h21.0v21.0h-21.0z"/><path d="M1307.5 797.4h21.0v21.0h-21.0z"/><path d="M1188.7 898.9h21.0v21.0h-21.0z"/><path d="M1245.5 838.2h21.0v21.0h-21.0z"/><path d="M1261.3 895.5h21.0v21.0h-21.0z"/><path d="M1281.4 816.2h21.0v21.0h-21.0z"/><path d="M1252.3 778.9h21.0v21.0h-21.0z"/><path d="M1202.8 894.3h21.0v21.0h-21.0z"/><path d="M1174.8 841.6h21.0v21.0h-21.0z"/><path d="M1278.4 850.9h21.0v21.0h-21.0z"/><path d="M1297 824h21.0v21.0h-21.0z"/><path d="M1226 835.9h21.0v21.0h-21.0z"/><path d="M1179.4 889.6h21.0v21.0h-21.0z"/><path d="M1221.5 843.8h21.0v21.0h-21.0z"/><path d="M1136 846.6h21.0v21.0h-21.0z"/><path d="M1270.4 810.7h21.0v21.0h-21.0z"/><path d="M1299.9 845.2h21.0v21.0h-21.0z"/><path d="M1221.5 786.7h21.0v21.0h-21.0z"/><path d="M1089.1 786.9h21.0v21.0h-21.0z"/><path d="M1231.1 960.6h21.0v21.0h-21.0z"/><path d="M1269.7 796.5h21.0v21.0h-21.0z"/><path d="M1153.5 948.2h21.0v21.0h-21.0z"/><path d="M1120 811.9h21.0v21.0h-21.0z"/><path d="M1206.6 954.6h21.0v21.0h-21.0z"/><path d="M1080.1 802.5h21.0v21.0h-21.0z"/><path d="M1250.4 888.8h21.0v21.0h-21.0z"/><path d="M1130.5 896.7h21.0v21.0h-21.0z"/><path d="M1272.7 791.4h21.0v21.0h-21.0z"/><path d="M1126.3 764.6h21.0v21.0h-21.0z"/><path d="M1174.1 858.4h21.0v21.0h-21.0z"/><path d="M1102.4 791.4h21.0v21.0h-21.0z"/><path d="M1187.6 815.1h21.0v21.0h-21.0z"/><path d="M1174.2 947.3h21.0v21.0h-21.0z"/><path d="M1163 953.4h21.0v21.0h-21.0z"/><path d="M1100.1 822.9h21.0v21.0h-21.0z"/><path d="M1109.1 832.4h21.0v21.0h-21.0z"/><path d="M1191.4 956.3h21.0v21.0h-21.0z"/><path d="M1160 911.6h21.0v21.0h-21.0z"/><path d="M1134.1 776.7h21.0v21.0h-21.0z"/><path d="M1282.6 862.4h21.0v21.0h-21.0z"/><path d="M1149 765h21.0v21.0h-21.0z"/><path d="M1121.1 878.5h21.0v21.0h-21.0z"/><path d="M1281.9 827.9h21.0v21.0h-21.0z"/><path d="M1181.2 795.6h21.0v21.0h-21.0z"/><path d="M1151.4 885.2h21.0v21.0h-21.0z"/><path d="M1096.2 781.8h21.0v21.0h-21.0z"/><path d="M1203.3 926.1h21.0v21.0h-21.0z"/><path d="M1163.2 792.5h21.0v21.0h-21.0z"/><path d="M1217 960.9h21.0v21.0h-21.0z"/><path d="M1133.2 807.1h21.0v21.0h-21.0z"/><path d="M1203.6 831.4h21.0v21.0h-21.0z"/><path d="M1262.6 855.5h21.0v21.0h-21.0z"/><path d="M1175.9 804.8h21.0v21.0h-21.0z"/><path d="M1110.2 876.3h21.0v21.0h-21.0z"/><path d="M1106.5 907.4h21.0v21.0h-21.0z"/><path d="M1158.3 771.4h21.0v21.0h-21.0z"/><path d="M1238.7 856.1h21.0v21.0h-21.0z"/><path d="M1101 807.3h21.0v21.0h-21.0z"/><path d="M1275.1 778.7h21.0v21.0h-21.0z"/><path d="M1127.3 836.5h21.0v21.0h-21.0z"/><path d="M1210.5 790.3h21.0v21.0h-21.0z"/><path d="M1206.6 911.6h21.0v21.0h-21.0z"/><path d="M1217.3 774.1h21.0v21.0h-21.0z"/><path d="M1140 870.3h21.0v21.0h-21.0z"/><path d="M1176.9 885.5h21.0v21.0h-21.0z"/><path d="M1198.4 794.3h21.0v21.0h-21.0z"/><path d="M1304 776.6h21.0v21.0h-21.0z"/><path d="M1224 905.2h21.0v21.0h-21.0z"/><path d="M1202.4 770.5h21.0v21.0h-21.0z"/><path d="M1196.4 930.9h21.0v21.0h-21.0z"/><path d="M1240.2 950.3h21.0v21.0h-21.0z"/><path d="M1223.9 913.2h21.0v21.0h-21.0z"/><path d="M1243.8 864.1h21.0v21.0h-21.0z"/><path d="M1136 793h21.0v21.0h-21.0z"/><path d="M1145.8 894.6h21.0v21.0h-21.0z"/><path d="M1234.4 775.7h21.0v21.0h-21.0z"/><path d="M1098.4 888h21.0v21.0h-21.0z"/><path d="M1129.5 801.7h21.0v21.0h-21.0z"/><path d="M1083.8 818.6h21.0v21.0h-21.0z"/><path d="M1161 804.4h21.0v21.0h-21.0z"/><path d="M1208.4 863.5h21.0v21.0h-21.0z"/><path d="M1198.4 963.6h21.0v21.0h-21.0z"/><path d="M1220.4 801.2h21.0v21.0h-21.0z"/><path d="M1182 962.8h21.0v21.0h-21.0z"/><path d="M1246.4 920.8h21.0v21.0h-21.0z"/><path d="M1104.9 766.8h21.0v21.0h-21.0z"/><path d="M1192.4 835.8h21.0v21.0h-21.0z"/><path d="M1356.3 768.4h21.0v21.0h-21.0z"/><path d="M1306.1 816.6h21.0v21.0h-21.0z"/><path d="M1319.6 837.9h21.0v21.0h-21.0z"/><path d="M1377.5 810.8h21.0v21.0h-21.0z"/><path d="M1279.1 895.8h21.0v21.0h-21.0z"/><path d="M1375.6 887.1h21.0v21.0h-21.0z"/><path d="M1339.9 998.1h21.0v21.0h-21.0z"/><path d="M1228.9 1032.8h21.0v21.0h-21.0z"/><path d="M1286.8 1032.8h21.0v21.0h-21.0z"/><path d="M1281 1057.9h21.0v21.0h-21.0z"/><path d="M1221.2 1062.8h21.0v21.0h-21.0z"/><path d="M1242.4 1062.8h21.0v21.0h-21.0z"/><path d="M1159.4 1057.9h21.0v21.0h-21.0z"/><path d="M1159.4 1083h21.0v21.0h-21.0z"/><path d="M1399.9 832.1h21.0v21.0h-21.0z"/><path d="M1344.3 591.9h21.0v21.0h-21.0z"/><path d="M1501.7 484.8h21.0v21.0h-21.0z"/><path d="M1466 489.9h21.0v21.0h-21.0z"/><path d="M1445.4 635.4h21.0v21.0h-21.0z"/><path d="M1382.7 513h21.0v21.0h-21.0z"/><path d="M1358.9 683.8h21.0v21.0h-21.0z"/><path d="M1211.2 707.8h21.0v21.0h-21.0z"/><path d="M1466.2 434.1h21.0v21.0h-21.0z"/><path d="M1288.6 585.9h21.0v21.0h-21.0z"/><path d="M1323.2 709.6h21.0v21.0h-21.0z"/><path d="M1503.7 420.2h21.0v21.0h-21.0z"/><path d="M1366.2 642.4h21.0v21.0h-21.0z"/><path d="M1232.5 649.6h21.0v21.0h-21.0z"/><path d="M1435.8 641.3h21.0v21.0h-21.0z"/><path d="M1239.8 623.4h21.0v21.0h-21.0z"/><path d="M1336.6 512.1h21.0v21.0h-21.0z"/><path d="M1332.4 535.2h21.0v21.0h-21.0z"/><path d="M1347.1 715.3h21.0v21.0h-21.0z"/><path d="M1452.4 427.2h21.0v21.0h-21.0z"/><path d="M1267.8 696.5h21.0v21.0h-21.0z"/><path d="M1271.4 768.4h21.0v21.0h-21.0z"/><path d="M1280.5 735.1h21.0v21.0h-21.0z"/><path d="M1395.9 522.2h21.0v21.0h-21.0z"/><path d="M1231.6 607h21.0v21.0h-21.0z"/><path d="M1221.6 739.9h21.0v21.0h-21.0z"/><path d="M1371.7 573.4h21.0v21.0h-21.0z"/><path d="M1387.3 548.5h21.0v21.0h-21.0z"/><path d="M1362.4 453h21.0v21.0h-21.0z"/><path d="M1375.4 423.9h21.0v21.0h-21.0z"/><path d="M1394 597.7h21.0v21.0h-21.0z"/><path d="M1296.7 518h21.0v21.0h-21.0z"/><path d="M1395.4 625.9h21.0v21.0h-21.0z"/><path d="M1239.3 667.7h21.0v21.0h-21.0z"/><path d="M1459.3 614.8h21.0v21.0h-21.0z"/><path d="M1434.3 442h21.0v21.0h-21.0z"/><path d="M1415.9 552.8h21.0v21.0h-21.0z"/><path d="M1330.3 565.3h21.0v21.0h-21.0z"/><path d="M1238.6 759.7h21.0v21.0h-21.0z"/><path d="M1460.9 546.6h21.0v21.0h-21.0z"/><path d="M1313.3 562.4h21.0v21.0h-21.0z"/><path d="M1361.4 482.5h21.0v21.0h-21.0z"/><path d="M1330.4 588.9h21.0v21.0h-21.0z"/><path d="M1445.3 494.7h21.0v21.0h-21.0z"/><path d="M1431.9 574.4h21.0v21.0h-21.0z"/><path d="M1256.6 740.2h21.0v21.0h-21.0z"/><path d="M1210.6 763.2h21.0v21.0h-21.0z"/><path d="M1281.7 573.7h21.0v21.0h-21.0z"/><path d="M1282.3 541h21.0v21.0h-21.0z"/><path d="M1467.9 446.8h21.0v21.0h-21.0z"/><path d="M1308.1 574.2h21.0v21.0h-21.0z"/><path d="M1462.1 596.7h21.0v21.0h-21.0z"/><path d="M1245.3 687h21.0v21.0h-21.0z"/><path d="M1265.4 648.1h21.0v21.0h-21.0z"/><path d="M1473.5 546.9h21.0v21.0h-21.0z"/><path d="M1390.4 684.6h21.0v21.0h-21.0z"/><path d="M1499.2 456.8h21.0v21.0h-21.0z"/><path d="M1461.9 470h21.0v21.0h-21.0z"/><path d="M1375.6 640.7h21.0v21.0h-21.0z"/><path d="M1235.5 700.3h21.0v21.0h-21.0z"/><path d="M1460.6 462.5h21.0v21.0h-21.0z"/><path d="M1220.9 681h21.0v21.0h-21.0z"/><path d="M1347.2 739.2h21.0v21.0h-21.0z"/><path d="M1240.8 729.9h21.0v21.0h-21.0z"/><path d="M1469.2 584.2h21.0v21.0h-21.0z"/><path d="M1277.6 598.8h21.0v21.0h-21.0z"/><path d="M1315.3 668.6h21.0v21.0h-21.0z"/><path d="M1419.1 527.2h21.0v21.0h-21.0z"/><path d="M1406.3 509.1h21.0v21.0h-21.0z"/><path d="M1301.7 729.4h21.0v21.0h-21.0z"/><path d="M1331.7 495.7h21.0v21.0h-21.0z"/><path d="M1379.9 425.2h21.0v21.0h-21.0z"/><path d="M1436.6 480.1h21.0v21.0h-21.0z"/><path d="M1261 599h21.0v21.0h-21.0z"/><path d="M1311 624h21.0v21.0h-21.0z"/><path d="M1359.3 559.9h21.0v21.0h-21.0z"/><path d="M1362.7 467.4h21.0v21.0h-21.0z"/><path d="M1335.5 489.4h21.0v21.0h-21.0z"/><path d="M1413.2 482.5h21.0v21.0h-21.0z"/><path d="M1218.9 734.7h21.0v21.0h-21.0z"/><path d="M1489.5 491.4h21.0v21.0h-21.0z"/><path d="M1527.2 447.4h21.0v21.0h-21.0z"/><path d="M1409.2 501.4h21.0v21.0h-21.0z"/><path d="M1380.9 698.2h21.0v21.0h-21.0z"/><path d="M1518.7 453.9h21.0v21.0h-21.0z"/><path d="M1273.5 531.8h21.0v21.0h-21.0z"/><path d="M1351.6 488h21.0v21.0h-21.0z"/><path d="M1281 577.3h21.0v21.0h-21.0z"/><path d="M1249.7 575.4h21.0v21.0h-21.0z"/><path d="M1317.7 629.2h21.0v21.0h-21.0z"/><path d="M1353 613.7h21.0v21.0h-21.0z"/><path d="M1446.2 416.4h21.0v21.0h-21.0z"/><path d="M1404.2 443.6h21.0v21.0h-21.0z"/><path d="M1257.1 716.3h21.0v21.0h-21.0z"/><path d="M1257.1 693.6h21.0v21.0h-21.0z"/><path d="M1216.2 707.8h21.0v21.0h-21.0z"/><path d="M1207.1 713.7h21.0v21.0h-21.0z"/><path d="M1300.9 624.7h21.0v21.0h-21.0z"/><path d="M1396.7 506.9h21.0v21.0h-21.0z"/><path d="M1221.6 621.1h21.0v21.0h-21.0z"/><path d="M1484.7 512.5h21.0v21.0h-21.0z"/><path d="M1208.1 724.7h21.0v21.0h-21.0z"/><path d="M1461.9 632.2h21.0v21.0h-21.0z"/><path d="M1373.6 444.9h21.0v21.0h-21.0z"/><path d="M1363 583.9h21.0v21.0h-21.0z"/><path d="M1374.8 663.9h21.0v21.0h-21.0z"/><path d="M1423.8 564.7h21.0v21.0h-21.0z"/><path d="M1505.9 445.8h21.0v21.0h-21.0z"/><path d="M1429.8 621.3h21.0v21.0h-21.0z"/><path d="M1267.4 724.3h21.0v21.0h-21.0z"/><path d="M1390.9 611.6h21.0v21.0h-21.0z"/><path d="M1379.7 534.5h21.0v21.0h-21.0z"/><path d="M1316.2 603h21.0v21.0h-21.0z"/><path d="M1302.5 678.8h21.0v21.0h-21.0z"/><path d="M1414.7 425.4h21.0v21.0h-21.0z"/><path d="M1433.4 539.2h21.0v21.0h-21.0z"/><path d="M1431.5 420.6h21.0v21.0h-21.0z"/><path d="M1326.6 764h21.0v21.0h-21.0z"/><path d="M1378.9 599.1h21.0v21.0h-21.0z"/><path d="M1461.3 511.5h21.0v21.0h-21.0z"/><path d="M1419.8 691.9h21.0v21.0h-21.0z"/><path d="M1459.6 562.3h21.0v21.0h-21.0z"/><path d="M1426.8 479.7h21.0v21.0h-21.0z"/><path d="M1263.7 634.4h21.0v21.0h-21.0z"/><path d="M1470.9 458.5h21.0v21.0h-21.0z"/><path d="M1492.2 459.6h21.0v21.0h-21.0z"/><path d="M1400.2 662h21.0v21.0h-21.0z"/><path d="M1469.9 587.6h21.0v21.0h-21.0z"/><path d="M1375.4 482.5h21.0v21.0h-21.0z"/><path d="M1367.1 591.6h21.0v21.0h-21.0z"/><path d="M1354.5 439.2h21.0v21.0h-21.0z"/><path d="M1371.9 670.7h21.0v21.0h-21.0z"/><path d="M1435.5 510.2h21.0v21.0h-21.0z"/><path d="M1395.6 576.4h21.0v21.0h-21.0z"/><path d="M1265.4 671.1h21.0v21.0h-21.0z"/><path d="M1372.4 621.2h21.0v21.0h-21.0z"/><path d="M1289.2 505.2h21.0v21.0h-21.0z"/><path d="M1410.3 537.7h21.0v21.0h-21.0z"/><path d="M1316.5 445.4h21.0v21.0h-21.0z"/><path d="M1400.2 691.7h21.0v21.0h-21.0z"/><path d="M1363.2 519.6h21.0v21.0h-21.0z"/><path d="M1250.2 741.7h21.0v21.0h-21.0z"/><path d="M1282.4 745.6h21.0v21.0h-21.0z"/><path d="M1340.2 662.4h21.0v21.0h-21.0z"/><path d="M1421.6 478.1h21.0v21.0h-21.0z"/><path d="M1336.6 437.9h21.0v21.0h-21.0z"/><path d="M1302.8 741.5h21.0v21.0h-21.0z"/><path d="M1334.8 622.7h21.0v21.0h-21.0z"/><path d="M1368.1 532.7h21.0v21.0h-21.0z"/><path d="M1301.5 636.7h21.0v21.0h-21.0z"/><path d="M1321.3 700.8h21.0v21.0h-21.0z"/><path d="M1496.5 469.6h21.0v21.0h-21.0z"/><path d="M1472.8 528.9h21.0v21.0h-21.0z"/><path d="M1460.3 484.1h21.0v21.0h-21.0z"/><path d="M1379.1 520.7h21.0v21.0h-21.0z"/><path d="M1441.4 583.1h21.0v21.0h-21.0z"/><path d="M1391.2 654.9h21.0v21.0h-21.0z"/><path d="M1319.1 600.3h21.0v21.0h-21.0z"/><path d="M1396.9 679.3h21.0v21.0h-21.0z"/><path d="M1334.7 628.7h21.0v21.0h-21.0z"/><path d="M1344.9 735.9h21.0v21.0h-21.0z"/><path d="M1286 637.4h21.0v21.0h-21.0z"/><path d="M1320.4 759.7h21.0v21.0h-21.0z"/><path d="M1507.1 468.8h21.0v21.0h-21.0z"/><path d="M1274.9 689.7h21.0v21.0h-21.0z"/><path d="M1491.1 422.3h21.0v21.0h-21.0z"/><path d="M1350.3 454.5h21.0v21.0h-21.0z"/><path d="M1365.8 676.5h21.0v21.0h-21.0z"/><path d="M1410.2 652.6h21.0v21.0h-21.0z"/><path d="M1396 545.3h21.0v21.0h-21.0z"/><path d="M1325.4 492.5h21.0v21.0h-21.0z"/><path d="M1479.3 465.8h21.0v21.0h-21.0z"/><path d="M1350.1 562.9h21.0v21.0h-21.0z"/><path d="M1458.7 418.9h21.0v21.0h-21.0z"/><path d="M1306.1 603.2h21.0v21.0h-21.0z"/><path d="M1226.3 756.9h21.0v21.0h-21.0z"/><path d="M1385.9 425.9h21.0v21.0h-21.0z"/><path d="M1367.1 627.9h21.0v21.0h-21.0z"/><path d="M1310 544.7h21.0v21.0h-21.0z"/><path d="M1403.8 469.5h21.0v21.0h-21.0z"/><path d="M1346.8 638.1h21.0v21.0h-21.0z"/><path d="M1420.4 674.4h21.0v21.0h-21.0z"/><path d="M1322.5 520.7h21.0v21.0h-21.0z"/><path d="M1312 656.9h21.0v21.0h-21.0z"/><path d="M1300.8 759.3h21.0v21.0h-21.0z"/><path d="M1421.3 661h21.0v21.0h-21.0z"/><path d="M1231.6 634.8h21.0v21.0h-21.0z"/><path d="M1351.7 526.1h21.0v21.0h-21.0z"/><path d="M1310.3 680.9h21.0v21.0h-21.0z"/><path d="M1362 536.8h21.0v21.0h-21.0z"/><path d="M1405.1 493.9h21.0v21.0h-21.0z"/><path d="M1304.6 696.4h21.0v21.0h-21.0z"/><path d="M1256 553h21.0v21.0h-21.0z"/><path d="M1408.6 669.1h21.0v21.0h-21.0z"/><path d="M1382.3 447.6h21.0v21.0h-21.0z"/><path d="M1342.6 558h21.0v21.0h-21.0z"/><path d="M1380.6 583.8h21.0v21.0h-21.0z"/><path d="M1317.8 687h21.0v21.0h-21.0z"/><path d="M1356.2 426.4h21.0v21.0h-21.0z"/><path d="M1445.8 556h21.0v21.0h-21.0z"/><path d="M1339.9 714.8h21.0v21.0h-21.0z"/><path d="M1215.8 629.5h21.0v21.0h-21.0z"/><path d="M1277.5 631.4h21.0v21.0h-21.0z"/><path d="M1342.2 690.3h21.0v21.0h-21.0z"/><path d="M1407.7 456.6h21.0v21.0h-21.0z"/><path d="M1277.4 603.4h21.0v21.0h-21.0z"/><path d="M1203.9 633h21.0v21.0h-21.0z"/><path d="M1303.5 536.5h21.0v21.0h-21.0z"/><path d="M1297.7 690.4h21.0v21.0h-21.0z"/><path d="M1254.4 658.7h21.0v21.0h-21.0z"/><path d="M1359.6 495.4h21.0v21.0h-21.0z"/><path d="M1390.8 630h21.0v21.0h-21.0z"/><path d="M1286.1 608.8h21.0v21.0h-21.0z"/><path d="M1441.8 655.6h21.0v21.0h-21.0z"/><path d="M1223.6 667.4h21.0v21.0h-21.0z"/><path d="M1335.5 584.4h21.0v21.0h-21.0z"/><path d="M1216.1 661h21.0v21.0h-21.0z"/><path d="M1499 439.7h21.0v21.0h-21.0z"/><path d="M1255.9 753.1h21.0v21.0h-21.0z"/><path d="M1412 586.4h21.0v21.0h-21.0z"/><path d="M1478.3 492.9h21.0v21.0h-21.0z"/><path d="M1343.6 516.3h21.0v21.0h-21.0z"/><path d="M1443.8 461.3h21.0v21.0h-21.0z"/><path d="M1367.1 574h21.0v21.0h-21.0z"/><path d="M1284.8 656.2h21.0v21.0h-21.0z"/><path d="M1237.3 640.5h21.0v21.0h-21.0z"/><path d="M1435.2 567h21.0v21.0h-21.0z"/><path d="M1390.9 504.5h21.0v21.0h-21.0z"/><path d="M1226.4 711.6h21.0v21.0h-21.0z"/><path d="M1313 514.3h21.0v21.0h-21.0z"/><path d="M1446.8 438.7h21.0v21.0h-21.0z"/><path d="M1288.5 752.3h21.0v21.0h-21.0z"/><path d="M1282.6 643.2h21.0v21.0h-21.0z"/><path d="M1465.5 493.6h21.0v21.0h-21.0z"/><path d="M1396.5 635.6h21.0v21.0h-21.0z"/><path d="M1344.9 757.5h21.0v21.0h-21.0z"/><path d="M1375.1 613.5h21.0v21.0h-21.0z"/><path d="M1260.7 608.1h21.0v21.0h-21.0z"/><path d="M1280.3 506.6h21.0v21.0h-21.0z"/><path d="M1250.5 596.5h21.0v21.0h-21.0z"/><path d="M1425.3 523.9h21.0v21.0h-21.0z"/><path d="M1428 539h21.0v21.0h-21.0z"/><path d="M1498.7 431.2h21.0v21.0h-21.0z"/><path d="M1459.7 541.7h21.0v21.0h-21.0z"/><path d="M1379.1 475.1h21.0v21.0h-21.0z"/><path d="M1312.5 724.7h21.0v21.0h-21.0z"/><path d="M1353.7 469.9h21.0v21.0h-21.0z"/><path d="M1301.8 647.3h21.0v21.0h-21.0z"/><path d="M1311.4 720.8h21.0v21.0h-21.0z"/><path d="M1328.4 750.5h21.0v21.0h-21.0z"/><path d="M1290.4 552h21.0v21.0h-21.0z"/><path d="M1414.4 613.2h21.0v21.0h-21.0z"/><path d="M1451 524h21.0v21.0h-21.0z"/><path d="M1422.1 431.1h21.0v21.0h-21.0z"/><path d="M1347.7 584.6h21.0v21.0h-21.0z"/><path d="M1211.2 622.8h21.0v21.0h-21.0z"/><path d="M1351.3 428.3h21.0v21.0h-21.0z"/><path d="M1308.3 653.7h21.0v21.0h-21.0z"/><path d="M1251 618h21.0v21.0h-21.0z"/><path d="M1583.3 436.9h21.0v21.0h-21.0z"/><path d="M1550.5 444.6h21.0v21.0h-21.0z"/><path d="M1510 593.2h21.0v21.0h-21.0z"/><path d="M1488.7 631.9h21.0v21.0h-21.0z"/><path d="M1531.2 668.5h21.0v21.0h-21.0z"/><path d="M1526.4 554.6h21.0v21.0h-21.0z"/><path d="M1233.9 508.3h21.0v21.0h-21.0z"/><path d="M1305.3 444.6h21.0v21.0h-21.0z"/><path d="M1326.6 444.6h21.0v21.0h-21.0z"/><path d="M1228.1 577.8h21.0v21.0h-21.0z"/><path d="M1428.9 687.8h21.0v21.0h-21.0z"/><path d="M1513.8 481.3h21.0v21.0h-21.0z"/><path d="M1441.2 334.3h21.0v21.0h-21.0z"/><path d="M1417.1 369h21.0v21.0h-21.0z"/><path d="M1413.2 392.2h21.0v21.0h-21.0z"/><path d="M1509.8 359.4h21.0v21.0h-21.0z"/><path d="M1483.7 374.8h21.0v21.0h-21.0z"/><path d="M1517.5 380.6h21.0v21.0h-21.0z"/><path d="M1334.1 405.7h21.0v21.0h-21.0z"/><path d="M1339.9 421.2h21.0v21.0h-21.0z"/><path d="M1353.4 434.7h21.0v21.0h-21.0z"/><path d="M1307.1 448.2h21.0v21.0h-21.0z"/><path d="M1326.4 448.2h21.0v21.0h-21.0z"/><path d="M1585.1 434.7h21.0v21.0h-21.0z"/><path d="M1546.4 446.3h21.0v21.0h-21.0z"/><path d="M1529.1 409.6h21.0v21.0h-21.0z"/><path d="M1509.8 467.5h21.0v21.0h-21.0z"/><path d="M1513.6 482.9h21.0v21.0h-21.0z"/><path d="M1324.4 482.9h21.0v21.0h-21.0z"/><path d="M1276.2 506.1h21.0v21.0h-21.0z"/><path d="M1239.5 508h21.0v21.0h-21.0z"/><path d="M1295.5 508h21.0v21.0h-21.0z"/><path d="M1260.7 525.4h21.0v21.0h-21.0z"/><path d="M1441.1 456.8h21.0v21.0h-21.0z"/><path d="M1457.6 458.7h21.0v21.0h-21.0z"/><path d="M1496.1 455.7h21.0v21.0h-21.0z"/><path d="M1346.5 531.1h21.0v21.0h-21.0z"/><path d="M1301.2 525.6h21.0v21.0h-21.0z"/><path d="M1439 478.7h21.0v21.0h-21.0z"/><path d="M1456.2 417.5h21.0v21.0h-21.0z"/><path d="M1456.5 538.9h21.0v21.0h-21.0z"/><path d="M1285.6 514.5h21.0v21.0h-21.0z"/><path d="M1425.9 424h21.0v21.0h-21.0z"/><path d="M1401.3 536.8h21.0v21.0h-21.0z"/><path d="M1442 525.7h21.0v21.0h-21.0z"/><path d="M1410.7 507.8h21.0v21.0h-21.0z"/><path d="M1513.8 403.7h21.0v21.0h-21.0z"/><path d="M1406 442.5h21.0v21.0h-21.0z"/><path d="M1489.6 488.5h21.0v21.0h-21.0z"/><path d="M1469 532h21.0v21.0h-21.0z"/><path d="M1538.3 422.9h21.0v21.0h-21.0z"/><path d="M1357.4 477.1h21.0v21.0h-21.0z"/><path d="M1339.4 500.7h21.0v21.0h-21.0z"/><path d="M1407.7 472h21.0v21.0h-21.0z"/><path d="M1432.7 454.7h21.0v21.0h-21.0z"/><path d="M1444.8 540.1h21.0v21.0h-21.0z"/><path d="M1445.5 443.3h21.0v21.0h-21.0z"/><path d="M1533.8 439.7h21.0v21.0h-21.0z"/><path d="M1416.1 503.1h21.0v21.0h-21.0z"/><path d="M1496.7 534h21.0v21.0h-21.0z"/><path d="M1392.7 448.2h21.0v21.0h-21.0z"/><path d="M1544.6 443.7h21.0v21.0h-21.0z"/><path d="M1371.4 514.2h21.0v21.0h-21.0z"/><path d="M1479 492.3h21.0v21.0h-21.0z"/><path d="M1514.7 450.1h21.0v21.0h-21.0z"/><path d="M1366.6 524.6h21.0v21.0h-21.0z"/><path d="M1504 416.8h21.0v21.0h-21.0z"/><path d="M1276 511.2h21.0v21.0h-21.0z"/><path d="M1400.6 517.7h21.0v21.0h-21.0z"/><path d="M1388.9 465.4h21.0v21.0h-21.0z"/><path d="M1405.1 460.2h21.0v21.0h-21.0z"/><path d="M1350.5 455.6h21.0v21.0h-21.0z"/><path d="M1289.3 527.9h21.0v21.0h-21.0z"/><path d="M1435.2 417.2h21.0v21.0h-21.0z"/><path d="M1270.3 534.7h21.0v21.0h-21.0z"/><path d="M1458.2 477.4h21.0v21.0h-21.0z"/><path d="M1373.8 501.4h21.0v21.0h-21.0z"/><path d="M1417.2 534.8h21.0v21.0h-21.0z"/><path d="M1440.7 514.2h21.0v21.0h-21.0z"/><path d="M1426.5 451.8h21.0v21.0h-21.0z"/><path d="M1455.8 498.5h21.0v21.0h-21.0z"/><path d="M1491.7 437.6h21.0v21.0h-21.0z"/><path d="M1389.6 490.6h21.0v21.0h-21.0z"/><path d="M1369.4 450h21.0v21.0h-21.0z"/><path d="M1360 506.1h21.0v21.0h-21.0z"/><path d="M1430.3 428.3h21.0v21.0h-21.0z"/><path d="M1315.1 529.7h21.0v21.0h-21.0z"/><path d="M1379.2 470.9h21.0v21.0h-21.0z"/><path d="M1443.9 485.7h21.0v21.0h-21.0z"/><path d="M1479.5 417.7h21.0v21.0h-21.0z"/><path d="M1407.3 520.6h21.0v21.0h-21.0z"/><path d="M1309.5 515.4h21.0v21.0h-21.0z"/><path d="M1481 470.8h21.0v21.0h-21.0z"/><path d="M1519.3 429.6h21.0v21.0h-21.0z"/><path d="M1434.3 516.4h21.0v21.0h-21.0z"/><path d="M1357.4 483.5h21.0v21.0h-21.0z"/><path d="M1472.3 502.3h21.0v21.0h-21.0z"/><path d="M1267.2 529.1h21.0v21.0h-21.0z"/><path d="M1513.8 387.4h21.0v21.0h-21.0z"/><path d="M1524.4 400.5h21.0v21.0h-21.0z"/><path d="M1400.9 493h21.0v21.0h-21.0z"/><path d="M1505.3 497.5h21.0v21.0h-21.0z"/><path d="M1358.2 539.2h21.0v21.0h-21.0z"/><path d="M1387.7 456.1h21.0v21.0h-21.0z"/><path d="M1489.9 391.6h21.0v21.0h-21.0z"/><path d="M1330.7 513h21.0v21.0h-21.0z"/><path d="M1474.9 465.8h21.0v21.0h-21.0z"/><path d="M1418.4 393.8h21.0v21.0h-21.0z"/><path d="M1467.7 406.3h21.0v21.0h-21.0z"/><path d="M1495.3 382.3h21.0v21.0h-21.0z"/><path d="M1417.2 484.9h21.0v21.0h-21.0z"/><path d="M1504.9 467.1h21.0v21.0h-21.0z"/><path d="M1506.4 387h21.0v21.0h-21.0z"/><path d="M1475.1 401h21.0v21.0h-21.0z"/><path d="M1451 443.7h21.0v21.0h-21.0z"/><path d="M1378.2 436.2h21.0v21.0h-21.0z"/><path d="M1464.8 419.2h21.0v21.0h-21.0z"/><path d="M1333.6 503.1h21.0v21.0h-21.0z"/><path d="M1320.6 516.9h21.0v21.0h-21.0z"/><path d="M1370.4 453.8h21.0v21.0h-21.0z"/><path d="M1501.4 438.3h21.0v21.0h-21.0z"/><path d="M1484.1 507.7h21.0v21.0h-21.0z"/><path d="M1366.6 481.7h21.0v21.0h-21.0z"/><path d="M1478.5 431.1h21.0v21.0h-21.0z"/><path d="M1169.8 594.2h21.0v21.0h-21.0z"/><path d="M1177.5 618.3h21.0v21.0h-21.0z"/><path d="M1167.9 637.6h21.0v21.0h-21.0z"/><path d="M1175.6 658.9h21.0v21.0h-21.0z"/><path d="M1121.5 647.3h21.0v21.0h-21.0z"/><path d="M1137 660.8h21.0v21.0h-21.0z"/><path d="M1047.2 690.7h21.0v21.0h-21.0z"/><path d="M1105.1 695.6h21.0v21.0h-21.0z"/><path d="M1165.9 689.8h21.0v21.0h-21.0z"/><path d="M914 716.8h21.0v21.0h-21.0z"/><path d="M983.5 716.8h21.0v21.0h-21.0z"/><path d="M1015.4 747.7h21.0v21.0h-21.0z"/><path d="M1073.3 747.7h21.0v21.0h-21.0z"/><path d="M1088.7 730.3h21.0v21.0h-21.0z"/><path d="M972.9 759.3h21.0v21.0h-21.0z"/><path d="M936.2 765.1h21.0v21.0h-21.0z"/><path d="M1001.9 765.1h21.0v21.0h-21.0z"/><path d="M1152.4 751.5h21.0v21.0h-21.0z"/><path d="M1135.1 765.1h21.0v21.0h-21.0z"/><path d="M474.4 1242.1h21.0v21.0h-21.0z"/><path d="M458.3 1264.7h21.0v21.0h-21.0z"/><path d="M436.5 1309.5h21.0v21.0h-21.0z"/><path d="M453.9 1279.6h21.0v21.0h-21.0z"/><path d="M449.3 1289.4h21.0v21.0h-21.0z"/><path d="M429.5 1313.6h21.0v21.0h-21.0z"/><path d="M452.6 1264.1h21.0v21.0h-21.0z"/><path d="M480.8 1237.7h21.0v21.0h-21.0z"/><path d="M451.1 1285.2h21.0v21.0h-21.0z"/><path d="M430.3 1343.3h21.0v21.0h-21.0z"/><path d="M427.6 1337.8h21.0v21.0h-21.0z"/><path d="M470.3 1240.8h21.0v21.0h-21.0z"/><path d="M472.6 1247.1h21.0v21.0h-21.0z"/><path d="M511.9 1173.5h21.0v21.0h-21.0z"/><path d="M442.4 1307.2h21.0v21.0h-21.0z"/><path d="M420.1 1338.5h21.0v21.0h-21.0z"/><path d="M460.4 1260h21.0v21.0h-21.0z"/><path d="M484 1233.2h21.0v21.0h-21.0z"/><path d="M434.8 1323.4h21.0v21.0h-21.0z"/><path d="M516.6 1174.5h21.0v21.0h-21.0z"/><path d="M520.7 1171.9h21.0v21.0h-21.0z"/><path d="M463.6 1252.4h21.0v21.0h-21.0z"/><path d="M459.3 1252.8h21.0v21.0h-21.0z"/><path d="M456.5 1273.3h21.0v21.0h-21.0z"/><path d="M493 1208.3h21.0v21.0h-21.0z"/><path d="M450.8 1255.6h21.0v21.0h-21.0z"/><path d="M491 1224.7h21.0v21.0h-21.0z"/><path d="M431.8 1328.9h21.0v21.0h-21.0z"/><path d="M515 1181.1h21.0v21.0h-21.0z"/><path d="M439.4 1311h21.0v21.0h-21.0z"/><path d="M426.9 1318.5h21.0v21.0h-21.0z"/>
</g>
<g fill="none" stroke="#00b050" stroke-width="5.6" stroke-linejoin="round">
<path d="M446.3 1401.8l10.6 21.2h-21.2z"/><path d="M623.7 1118.1l10.6 21.2h-21.2z"/><path d="M559 1281.3l10.6 21.2h-21.2z"/><path d="M463.8 1400.5l10.6 21.2h-21.2z"/><path d="M559.2 1322.7l10.6 21.2h-21.2z"/><path d="M558.7 1258l10.6 21.2h-21.2z"/><path d="M578.4 1109.8l10.6 21.2h-21.2z"/><path d="M581.6 1279l10.6 21.2h-21.2z"/><path d="M592 1174.4l10.6 21.2h-21.2z"/><path d="M600.4 1215.4l10.6 21.2h-21.2z"/><path d="M637.2 1194.4l10.6 21.2h-21.2z"/><path d="M517.5 1372.2l10.6 21.2h-21.2z"/><path d="M506.5 1331.2l10.6 21.2h-21.2z"/><path d="M574.5 1160.3l10.6 21.2h-21.2z"/><path d="M513.7 1295.2l10.6 21.2h-21.2z"/><path d="M530.1 1368.1l10.6 21.2h-21.2z"/><path d="M500.1 1261.9l10.6 21.2h-21.2z"/><path d="M568.9 1323.7l10.6 21.2h-21.2z"/><path d="M575.5 1172.3l10.6 21.2h-21.2z"/><path d="M476.2 1294.5l10.6 21.2h-21.2z"/><path d="M516.9 1305.5l10.6 21.2h-21.2z"/><path d="M536.4 1259.1l10.6 21.2h-21.2z"/><path d="M563.3 1122.9l10.6 21.2h-21.2z"/><path d="M478.5 1282.1l10.6 21.2h-21.2z"/><path d="M469.6 1327.9l10.6 21.2h-21.2z"/><path d="M580.8 1200.1l10.6 21.2h-21.2z"/><path d="M627.4 1135l10.6 21.2h-21.2z"/><path d="M618 1217.6l10.6 21.2h-21.2z"/><path d="M560.4 1129.2l10.6 21.2h-21.2z"/><path d="M565.2 1145.7l10.6 21.2h-21.2z"/><path d="M650.3 1130.2l10.6 21.2h-21.2z"/><path d="M568.4 1295.7l10.6 21.2h-21.2z"/><path d="M615.4 1197.8l10.6 21.2h-21.2z"/><path d="M456.9 1388.2l10.6 21.2h-21.2z"/><path d="M593.6 1291.3l10.6 21.2h-21.2z"/><path d="M590.6 1238.9l10.6 21.2h-21.2z"/><path d="M474.5 1394.9l10.6 21.2h-21.2z"/><path d="M571.9 1305.2l10.6 21.2h-21.2z"/><path d="M557.5 1227l10.6 21.2h-21.2z"/><path d="M476.6 1276.9l10.6 21.2h-21.2z"/><path d="M441.6 1381.1l10.6 21.2h-21.2z"/><path d="M438.9 1395.2l10.6 21.2h-21.2z"/><path d="M576.2 1336.9l10.6 21.2h-21.2z"/><path d="M566.8 1272.9l10.6 21.2h-21.2z"/><path d="M519.3 1245.4l10.6 21.2h-21.2z"/><path d="M477.8 1369.7l10.6 21.2h-21.2z"/><path d="M567.6 1252.2l10.6 21.2h-21.2z"/><path d="M548.4 1189.3l10.6 21.2h-21.2z"/><path d="M630.1 1115.9l10.6 21.2h-21.2z"/><path d="M518.6 1210.3l10.6 21.2h-21.2z"/><path d="M558.8 1301.2l10.6 21.2h-21.2z"/><path d="M615.6 1108.1l10.6 21.2h-21.2z"/><path d="M506 1364.4l10.6 21.2h-21.2z"/><path d="M573.2 1261.3l10.6 21.2h-21.2z"/><path d="M641.6 1156.2l10.6 21.2h-21.2z"/><path d="M455.8 1371l10.6 21.2h-21.2z"/><path d="M544.3 1291.5l10.6 21.2h-21.2z"/><path d="M652.5 1107.3l10.6 21.2h-21.2z"/><path d="M502.4 1253.3l10.6 21.2h-21.2z"/><path d="M503.8 1373.2l10.6 21.2h-21.2z"/><path d="M466.4 1295.8l10.6 21.2h-21.2z"/><path d="M575.3 1140.5l10.6 21.2h-21.2z"/><path d="M449.3 1395.9l10.6 21.2h-21.2z"/><path d="M664.1 1114.2l10.6 21.2h-21.2z"/><path d="M583.6 1220.5l10.6 21.2h-21.2z"/><path d="M539.5 1177.3l10.6 21.2h-21.2z"/><path d="M554.2 1218l10.6 21.2h-21.2z"/><path d="M549 1279.6l10.6 21.2h-21.2z"/><path d="M475.7 1344.2l10.6 21.2h-21.2z"/><path d="M508.6 1238.3l10.6 21.2h-21.2z"/><path d="M600 1187.1l10.6 21.2h-21.2z"/><path d="M559.3 1163.8l10.6 21.2h-21.2z"/><path d="M486.2 1267.6l10.6 21.2h-21.2z"/><path d="M520.1 1268l10.6 21.2h-21.2z"/><path d="M443.8 1370.3l10.6 21.2h-21.2z"/><path d="M619 1171.6l10.6 21.2h-21.2z"/><path d="M568.7 1152.1l10.6 21.2h-21.2z"/><path d="M564.3 1339l10.6 21.2h-21.2z"/><path d="M537.2 1271.5l10.6 21.2h-21.2z"/><path d="M573.4 1212.6l10.6 21.2h-21.2z"/><path d="M587.6 1289l10.6 21.2h-21.2z"/><path d="M587.5 1250l10.6 21.2h-21.2z"/><path d="M537.3 1318.5l10.6 21.2h-21.2z"/><path d="M529.7 1338.5l10.6 21.2h-21.2z"/><path d="M608 1119.4l10.6 21.2h-21.2z"/><path d="M501.1 1379.4l10.6 21.2h-21.2z"/><path d="M487.2 1316.2l10.6 21.2h-21.2z"/><path d="M631.6 1161.7l10.6 21.2h-21.2z"/><path d="M487.6 1307.4l10.6 21.2h-21.2z"/><path d="M486.6 1370.8l10.6 21.2h-21.2z"/><path d="M585.1 1296.3l10.6 21.2h-21.2z"/><path d="M630.8 1202l10.6 21.2h-21.2z"/><path d="M599.5 1111.9l10.6 21.2h-21.2z"/><path d="M500.4 1299.6l10.6 21.2h-21.2z"/><path d="M591.8 1254.7l10.6 21.2h-21.2z"/><path d="M531.5 1322.6l10.6 21.2h-21.2z"/><path d="M518.9 1351.1l10.6 21.2h-21.2z"/><path d="M481.2 1332.7l10.6 21.2h-21.2z"/><path d="M523.9 1247l10.6 21.2h-21.2z"/><path d="M581.1 1276l10.6 21.2h-21.2z"/><path d="M494 1294l10.6 21.2h-21.2z"/><path d="M564.4 1194.1l10.6 21.2h-21.2z"/><path d="M641.4 1111.2l10.6 21.2h-21.2z"/><path d="M553.3 1267.5l10.6 21.2h-21.2z"/><path d="M624.1 1154.7l10.6 21.2h-21.2z"/><path d="M601.1 1203.8l10.6 21.2h-21.2z"/><path d="M504.4 1395.4l10.6 21.2h-21.2z"/><path d="M514 1310.7l10.6 21.2h-21.2z"/><path d="M542 1249.8l10.6 21.2h-21.2z"/><path d="M520.3 1222.9l10.6 21.2h-21.2z"/><path d="M537.9 1210.6l10.6 21.2h-21.2z"/><path d="M601.6 1223.9l10.6 21.2h-21.2z"/><path d="M525.6 1191.4l10.6 21.2h-21.2z"/><path d="M452 1399.1l10.6 21.2h-21.2z"/><path d="M558 1216.3l10.6 21.2h-21.2z"/><path d="M589 1148.7l10.6 21.2h-21.2z"/><path d="M559.1 1172l10.6 21.2h-21.2z"/><path d="M490.1 1385.5l10.6 21.2h-21.2z"/><path d="M504.7 1257.8l10.6 21.2h-21.2z"/><path d="M520 1314.7l10.6 21.2h-21.2z"/><path d="M512.3 1209.1l10.6 21.2h-21.2z"/><path d="M485.2 1346.3l10.6 21.2h-21.2z"/><path d="M616.3 1130.7l10.6 21.2h-21.2z"/><path d="M503.8 1400.5l10.6 21.2h-21.2z"/><path d="M513.5 1344.2l10.6 21.2h-21.2z"/><path d="M544.3 1349.5l10.6 21.2h-21.2z"/><path d="M557.6 1201.4l10.6 21.2h-21.2z"/><path d="M554.4 1248.6l10.6 21.2h-21.2z"/><path d="M526.8 1220.8l10.6 21.2h-21.2z"/><path d="M486 1399.2l10.6 21.2h-21.2z"/><path d="M544.5 1370.6l10.6 21.2h-21.2z"/><path d="M605.7 1218.7l10.6 21.2h-21.2z"/><path d="M532.3 1202.3l10.6 21.2h-21.2z"/><path d="M595 1115.9l10.6 21.2h-21.2z"/><path d="M500.9 1310.3l10.6 21.2h-21.2z"/><path d="M496 1413.9l10.6 21.2h-21.2z"/><path d="M550.7 1365.1l10.6 21.2h-21.2z"/><path d="M550.4 1234.8l10.6 21.2h-21.2z"/><path d="M495.9 1357.9l10.6 21.2h-21.2z"/><path d="M552.3 1262.7l10.6 21.2h-21.2z"/><path d="M588.5 1179.3l10.6 21.2h-21.2z"/><path d="M464.4 1288.5l10.6 21.2h-21.2z"/><path d="M609.1 1149.5l10.6 21.2h-21.2z"/><path d="M497 1283.1l10.6 21.2h-21.2z"/><path d="M554.4 1333.6l10.6 21.2h-21.2z"/><path d="M539.6 1187.7l10.6 21.2h-21.2z"/><path d="M633.8 1136.8l10.6 21.2h-21.2z"/><path d="M520.3 1394.6l10.6 21.2h-21.2z"/><path d="M614.3 1194.2l10.6 21.2h-21.2z"/><path d="M574.3 1223.9l10.6 21.2h-21.2z"/><path d="M666.5 1125.5l10.6 21.2h-21.2z"/><path d="M569.5 1236.8l10.6 21.2h-21.2z"/><path d="M608.4 1179.1l10.6 21.2h-21.2z"/><path d="M463.8 1382.1l10.6 21.2h-21.2z"/><path d="M541 1333.2l10.6 21.2h-21.2z"/><path d="M574 1203.7l10.6 21.2h-21.2z"/><path d="M548.5 1337.4l10.6 21.2h-21.2z"/><path d="M541.3 1375.2l10.6 21.2h-21.2z"/><path d="M534.3 1290.4l10.6 21.2h-21.2z"/><path d="M459.7 1353.6l10.6 21.2h-21.2z"/><path d="M604.5 1170.4l10.6 21.2h-21.2z"/><path d="M546.4 1312.5l10.6 21.2h-21.2z"/><path d="M639.5 1131.2l10.6 21.2h-21.2z"/><path d="M525.6 1328l10.6 21.2h-21.2z"/><path d="M557.9 1331.8l10.6 21.2h-21.2z"/><path d="M551.6 1374.5l10.6 21.2h-21.2z"/><path d="M488.6 1415.2l10.6 21.2h-21.2z"/><path d="M647 1118.4l10.6 21.2h-21.2z"/><path d="M502.3 1313.6l10.6 21.2h-21.2z"/><path d="M548.5 1170.1l10.6 21.2h-21.2z"/><path d="M548.4 1225.1l10.6 21.2h-21.2z"/><path d="M513.7 1201.1l10.6 21.2h-21.2z"/><path d="M545.9 1390.1l10.6 21.2h-21.2z"/><path d="M577.9 1185.2l10.6 21.2h-21.2z"/><path d="M615.1 1100l10.6 21.2h-21.2z"/><path d="M541 1197l10.6 21.2h-21.2z"/><path d="M523 1230.8l10.6 21.2h-21.2z"/><path d="M461.3 1344l10.6 21.2h-21.2z"/><path d="M503.5 1280.6l10.6 21.2h-21.2z"/><path d="M518.5 1256.2l10.6 21.2h-21.2z"/><path d="M603.8 1132.3l10.6 21.2h-21.2z"/><path d="M471.1 1320.7l10.6 21.2h-21.2z"/><path d="M575.4 1105.7l10.6 21.2h-21.2z"/><path d="M534.8 1266.1l10.6 21.2h-21.2z"/><path d="M541.3 1360.8l10.6 21.2h-21.2z"/><path d="M574.9 1113.6l10.6 21.2h-21.2z"/><path d="M591.8 1191.1l10.6 21.2h-21.2z"/><path d="M486.2 1382.5l10.6 21.2h-21.2z"/><path d="M577.1 1241.3l10.6 21.2h-21.2z"/><path d="M550.8 1341.4l10.6 21.2h-21.2z"/><path d="M498.7 1329.8l10.6 21.2h-21.2z"/><path d="M503.5 1348.4l10.6 21.2h-21.2z"/><path d="M596.1 1208.4l10.6 21.2h-21.2z"/><path d="M505.1 1269.3l10.6 21.2h-21.2z"/><path d="M500.5 1405.3l10.6 21.2h-21.2z"/><path d="M457.5 1378.3l10.6 21.2h-21.2z"/><path d="M602.1 1139.7l10.6 21.2h-21.2z"/><path d="M537.8 1282l10.6 21.2h-21.2z"/><path d="M613.8 1138.2l10.6 21.2h-21.2z"/><path d="M618.9 1105.7l10.6 21.2h-21.2z"/><path d="M591.9 1140.1l10.6 21.2h-21.2z"/><path d="M514.7 1350.9l10.6 21.2h-21.2z"/><path d="M524.1 1384.5l10.6 21.2h-21.2z"/><path d="M591.7 1156.9l10.6 21.2h-21.2z"/><path d="M579.5 1130.1l10.6 21.2h-21.2z"/><path d="M533.1 1306.2l10.6 21.2h-21.2z"/><path d="M517.3 1400.6l10.6 21.2h-21.2z"/><path d="M593.3 1171l10.6 21.2h-21.2z"/><path d="M631.9 1217.2l10.6 21.2h-21.2z"/><path d="M644.9 1140.3l10.6 21.2h-21.2z"/><path d="M537.5 1238.2l10.6 21.2h-21.2z"/><path d="M575.7 1130.9l10.6 21.2h-21.2z"/><path d="M471 1355.2l10.6 21.2h-21.2z"/><path d="M524.9 1286.7l10.6 21.2h-21.2z"/><path d="M480.9 1350.9l10.6 21.2h-21.2z"/><path d="M569.1 1309.2l10.6 21.2h-21.2z"/><path d="M642.7 1204.6l10.6 21.2h-21.2z"/><path d="M493.6 1168.3l10.6 21.2h-21.2z"/><path d="M531.3 1130.6l10.6 21.2h-21.2z"/><path d="M456.9 1322.7l10.6 21.2h-21.2z"/><path d="M663.5 1176l10.6 21.2h-21.2z"/><path d="M664.5 1157.7l10.6 21.2h-21.2z"/><path d="M679.9 1119.1l10.6 21.2h-21.2z"/><path d="M711.2 1121l10.6 21.2h-21.2z"/><path d="M732 1148l10.6 21.2h-21.2z"/><path d="M769.7 1126.8l10.6 21.2h-21.2z"/><path d="M700.2 1205.9l10.6 21.2h-21.2z"/><path d="M753.3 1221.4l10.6 21.2h-21.2z"/><path d="M610.4 1233l10.6 21.2h-21.2z"/><path d="M631.7 1248.4l10.6 21.2h-21.2z"/><path d="M611.4 1273.5l10.6 21.2h-21.2z"/><path d="M642.3 1279.3l10.6 21.2h-21.2z"/><path d="M721.4 1263.8l10.6 21.2h-21.2z"/><path d="M786.1 1275.4l10.6 21.2h-21.2z"/><path d="M775.5 1306.3l10.6 21.2h-21.2z"/><path d="M701.2 1316.9l10.6 21.2h-21.2z"/><path d="M678 1333.3l10.6 21.2h-21.2z"/><path d="M695.4 1338.2l10.6 21.2h-21.2z"/><path d="M593.1 1323.7l10.6 21.2h-21.2z"/><path d="M579.5 1327.5l10.6 21.2h-21.2z"/><path d="M615.3 1354.6l10.6 21.2h-21.2z"/><path d="M625.9 1366.2l10.6 21.2h-21.2z"/><path d="M626.8 1391.3l10.6 21.2h-21.2z"/><path d="M615.3 1404.8l10.6 21.2h-21.2z"/><path d="M572.8 1402.8l10.6 21.2h-21.2z"/><path d="M568 1427.9l10.6 21.2h-21.2z"/><path d="M721.4 1397l10.6 21.2h-21.2z"/><path d="M743.6 1389.3l10.6 21.2h-21.2z"/><path d="M536.1 1422.1l10.6 21.2h-21.2z"/><path d="M519.7 1410.6l10.6 21.2h-21.2z"/><path d="M493.6 1400.9l10.6 21.2h-21.2z"/><path d="M554.4 1364.2l10.6 21.2h-21.2z"/><path d="M558.3 1387.4l10.6 21.2h-21.2z"/><path d="M717.6 899.5l10.6 21.2h-21.2z"/><path d="M695.4 915l10.6 21.2h-21.2z"/><path d="M695.4 932.4l10.6 21.2h-21.2z"/><path d="M604.6 940.1l10.6 21.2h-21.2z"/><path d="M579.5 957.5l10.6 21.2h-21.2z"/><path d="M679.9 955.5l10.6 21.2h-21.2z"/><path d="M623.9 971l10.6 21.2h-21.2z"/><path d="M622 984.5l10.6 21.2h-21.2z"/><path d="M664.5 984.5l10.6 21.2h-21.2z"/><path d="M690.5 974.8l10.6 21.2h-21.2z"/><path d="M558.3 1003.8l10.6 21.2h-21.2z"/><path d="M604.6 1009.6l10.6 21.2h-21.2z"/><path d="M622 1021.2l10.6 21.2h-21.2z"/><path d="M633.6 1026.9l10.6 21.2h-21.2z"/><path d="M685.7 1021.2l10.6 21.2h-21.2z"/><path d="M658.7 1032.7l10.6 21.2h-21.2z"/><path d="M658.7 1050.1l10.6 21.2h-21.2z"/><path d="M681.9 1046.3l10.6 21.2h-21.2z"/><path d="M701.2 1048.2l10.6 21.2h-21.2z"/><path d="M695.4 1055.9l10.6 21.2h-21.2z"/><path d="M618.1 1040.5l10.6 21.2h-21.2z"/><path d="M620.1 1055.9l10.6 21.2h-21.2z"/><path d="M583.4 1065.6l10.6 21.2h-21.2z"/><path d="M585.3 1081l10.6 21.2h-21.2z"/><path d="M670.3 1071.3l10.6 21.2h-21.2z"/><path d="M668.3 1079.1l10.6 21.2h-21.2z"/><path d="M639.4 1088.7l10.6 21.2h-21.2z"/><path d="M612.4 1088.7l10.6 21.2h-21.2z"/><path d="M658.7 1100.3l10.6 21.2h-21.2z"/><path d="M770.7 971l10.6 21.2h-21.2z"/><path d="M772.6 988.3l10.6 21.2h-21.2z"/><path d="M737.8 1009.6l10.6 21.2h-21.2z"/><path d="M749.4 1009.6l10.6 21.2h-21.2z"/><path d="M786.1 918.8l10.6 21.2h-21.2z"/><path d="M776.4 936.2l10.6 21.2h-21.2z"/><path d="M757.1 1081l10.6 21.2h-21.2z"/><path d="M743.6 1082.9l10.6 21.2h-21.2z"/><path d="M766.8 1084.9l10.6 21.2h-21.2z"/><path d="M797.7 1034.7l10.6 21.2h-21.2z"/><path d="M797.7 1065.6l10.6 21.2h-21.2z"/><path d="M566 1104.2l10.6 21.2h-21.2z"/><path d="M583.4 1100.3l10.6 21.2h-21.2z"/><path d="M833.8 1122.9l10.6 21.2h-21.2z"/><path d="M856 1163.5l10.6 21.2h-21.2z"/><path d="M839.6 1190.5l10.6 21.2h-21.2z"/><path d="M856 1194.3l10.6 21.2h-21.2z"/><path d="M856 1253.2l10.6 21.2h-21.2z"/><path d="M940.9 1152.8l10.6 21.2h-21.2z"/><path d="M1004.6 1131.6l10.6 21.2h-21.2z"/><path d="M972.8 1105.5l10.6 21.2h-21.2z"/><path d="M1057.7 1111.3l10.6 21.2h-21.2z"/><path d="M1062.5 1147l10.6 21.2h-21.2z"/><path d="M1063.5 1174.1l10.6 21.2h-21.2z"/><path d="M1100.2 1131.6l10.6 21.2h-21.2z"/><path d="M1174.5 1121.9l10.6 21.2h-21.2z"/><path d="M1057.7 1248.4l10.6 21.2h-21.2z"/><path d="M1126.3 1103.6l10.6 21.2h-21.2z"/><path d="M620.8 1049.4l10.6 21.2h-21.2z"/><path d="M602.3 1097.4l10.6 21.2h-21.2z"/><path d="M619.4 1074.4l10.6 21.2h-21.2z"/><path d="M605.8 1074.5l10.6 21.2h-21.2z"/><path d="M625.3 1081.4l10.6 21.2h-21.2z"/><path d="M602 1075.2l10.6 21.2h-21.2z"/><path d="M585.6 1084.3l10.6 21.2h-21.2z"/><path d="M588.1 1101.8l10.6 21.2h-21.2z"/><path d="M645.2 1098.7l10.6 21.2h-21.2z"/><path d="M644.4 1102.4l10.6 21.2h-21.2z"/><path d="M629.5 1101.7l10.6 21.2h-21.2z"/><path d="M621.9 1074.5l10.6 21.2h-21.2z"/><path d="M649.6 1099.8l10.6 21.2h-21.2z"/><path d="M829 776l10.6 21.2h-21.2z"/><path d="M850.2 791.4l10.6 21.2h-21.2z"/><path d="M833.8 812.7l10.6 21.2h-21.2z"/><path d="M951.5 802l10.6 21.2h-21.2z"/><path d="M1020.1 780.8l10.6 21.2h-21.2z"/><path d="M1062.5 772.1l10.6 21.2h-21.2z"/><path d="M1015.3 817.5l10.6 21.2h-21.2z"/><path d="M812.5 882.2l10.6 21.2h-21.2z"/><path d="M823.2 891.8l10.6 21.2h-21.2z"/><path d="M865.6 878.3l10.6 21.2h-21.2z"/><path d="M877.2 878.3l10.6 21.2h-21.2z"/><path d="M898.5 882.2l10.6 21.2h-21.2z"/><path d="M883 888l10.6 21.2h-21.2z"/><path d="M993.1 897.6l10.6 21.2h-21.2z"/><path d="M1014.3 876.4l10.6 21.2h-21.2z"/><path d="M892.7 930.4l10.6 21.2h-21.2z"/><path d="M892.7 942l10.6 21.2h-21.2z"/><path d="M940.9 945.9l10.6 21.2h-21.2z"/><path d="M952.5 957.5l10.6 21.2h-21.2z"/><path d="M823.2 972.9l10.6 21.2h-21.2z"/><path d="M903.3 972.9l10.6 21.2h-21.2z"/><path d="M929.3 976.8l10.6 21.2h-21.2z"/><path d="M982.4 976.8l10.6 21.2h-21.2z"/><path d="M1041.3 924.6l10.6 21.2h-21.2z"/><path d="M823.2 998l10.6 21.2h-21.2z"/><path d="M844.4 1015.4l10.6 21.2h-21.2z"/><path d="M882 1015.4l10.6 21.2h-21.2z"/><path d="M950.6 1046.3l10.6 21.2h-21.2z"/><path d="M1012.4 1034.7l10.6 21.2h-21.2z"/><path d="M1020.1 1073.3l10.6 21.2h-21.2z"/><path d="M945.8 1088.7l10.6 21.2h-21.2z"/><path d="M971.8 1104.2l10.6 21.2h-21.2z"/><path d="M805.8 1028.9l10.6 21.2h-21.2z"/><path d="M803.9 1059.8l10.6 21.2h-21.2z"/><path d="M1223.4 775.2l10.6 21.2h-21.2z"/><path d="M1287.7 776.4l10.6 21.2h-21.2z"/><path d="M1272.1 829.4l10.6 21.2h-21.2z"/><path d="M1230.2 837.3l10.6 21.2h-21.2z"/><path d="M1237.7 788.6l10.6 21.2h-21.2z"/><path d="M1215.5 819.9l10.6 21.2h-21.2z"/><path d="M1225.3 768.8l10.6 21.2h-21.2z"/><path d="M1270.7 784.2l10.6 21.2h-21.2z"/><path d="M1199.9 797.6l10.6 21.2h-21.2z"/><path d="M1218.1 808.7l10.6 21.2h-21.2z"/><path d="M1297.4 799.6l10.6 21.2h-21.2z"/><path d="M1235.3 783l10.6 21.2h-21.2z"/><path d="M1293.3 774.7l10.6 21.2h-21.2z"/><path d="M1287.3 826.7l10.6 21.2h-21.2z"/><path d="M1296.3 764.1l10.6 21.2h-21.2z"/><path d="M1192.5 790.7l10.6 21.2h-21.2z"/><path d="M1210.5 793.3l10.6 21.2h-21.2z"/><path d="M1301.2 762.2l10.6 21.2h-21.2z"/><path d="M1257.5 801.2l10.6 21.2h-21.2z"/><path d="M1244.4 840.2l10.6 21.2h-21.2z"/><path d="M1333 769.3l10.6 21.2h-21.2z"/><path d="M1289.7 816.3l10.6 21.2h-21.2z"/><path d="M1262.2 782.6l10.6 21.2h-21.2z"/><path d="M1309.6 769.8l10.6 21.2h-21.2z"/><path d="M1219.9 837.4l10.6 21.2h-21.2z"/><path d="M1255 810.9l10.6 21.2h-21.2z"/><path d="M1204.6 776.4l10.6 21.2h-21.2z"/><path d="M1235.9 803.5l10.6 21.2h-21.2z"/><path d="M1231.7 782.8l10.6 21.2h-21.2z"/><path d="M1284.8 804.9l10.6 21.2h-21.2z"/><path d="M1327 783.3l10.6 21.2h-21.2z"/><path d="M1210.2 870.2l10.6 21.2h-21.2z"/><path d="M1156 911.7l10.6 21.2h-21.2z"/><path d="M1298.8 783.6l10.6 21.2h-21.2z"/><path d="M1229.8 900.2l10.6 21.2h-21.2z"/><path d="M1163.5 802.1l10.6 21.2h-21.2z"/><path d="M1218.6 791.7l10.6 21.2h-21.2z"/><path d="M1159.3 851.3l10.6 21.2h-21.2z"/><path d="M1206.6 826.7l10.6 21.2h-21.2z"/><path d="M1237.1 769.5l10.6 21.2h-21.2z"/><path d="M1182.9 764.8l10.6 21.2h-21.2z"/><path d="M1173.5 889.5l10.6 21.2h-21.2z"/><path d="M1196.9 889l10.6 21.2h-21.2z"/><path d="M1309.6 765l10.6 21.2h-21.2z"/><path d="M1192.1 771.6l10.6 21.2h-21.2z"/><path d="M1141.6 916.7l10.6 21.2h-21.2z"/><path d="M1232.7 833.7l10.6 21.2h-21.2z"/><path d="M1187.2 791.8l10.6 21.2h-21.2z"/><path d="M1213.1 891.3l10.6 21.2h-21.2z"/><path d="M1314.7 785.1l10.6 21.2h-21.2z"/><path d="M1290.9 821.2l10.6 21.2h-21.2z"/><path d="M1260.3 886l10.6 21.2h-21.2z"/><path d="M1168.7 859.7l10.6 21.2h-21.2z"/><path d="M1253 817.1l10.6 21.2h-21.2z"/><path d="M1330.2 772.4l10.6 21.2h-21.2z"/><path d="M1161.4 920.6l10.6 21.2h-21.2z"/><path d="M1234.1 802.5l10.6 21.2h-21.2z"/><path d="M1224 868.5l10.6 21.2h-21.2z"/><path d="M1277.2 768.8l10.6 21.2h-21.2z"/><path d="M1185.7 876.4l10.6 21.2h-21.2z"/><path d="M1208 837.6l10.6 21.2h-21.2z"/><path d="M1245.7 849.3l10.6 21.2h-21.2z"/><path d="M1252.2 771.6l10.6 21.2h-21.2z"/><path d="M1176 785.7l10.6 21.2h-21.2z"/><path d="M1250.9 898.8l10.6 21.2h-21.2z"/><path d="M1270.9 834.8l10.6 21.2h-21.2z"/><path d="M1278.9 797.8l10.6 21.2h-21.2z"/><path d="M1253.8 829.6l10.6 21.2h-21.2z"/><path d="M1166.8 947.2l10.6 21.2h-21.2z"/><path d="M1210 916.8l10.6 21.2h-21.2z"/><path d="M1197.7 868.6l10.6 21.2h-21.2z"/><path d="M1257.7 788.1l10.6 21.2h-21.2z"/><path d="M1192.1 942.3l10.6 21.2h-21.2z"/><path d="M1204.5 854.6l10.6 21.2h-21.2z"/><path d="M1263 858.9l10.6 21.2h-21.2z"/><path d="M1150.1 876.5l10.6 21.2h-21.2z"/><path d="M1199.7 844.1l10.6 21.2h-21.2z"/><path d="M1276 810.6l10.6 21.2h-21.2z"/><path d="M1216.7 913.6l10.6 21.2h-21.2z"/><path d="M1286.5 764.3l10.6 21.2h-21.2z"/><path d="M1258.3 804.7l10.6 21.2h-21.2z"/><path d="M1290.4 803.5l10.6 21.2h-21.2z"/><path d="M1217.8 778.5l10.6 21.2h-21.2z"/><path d="M1199.3 941.4l10.6 21.2h-21.2z"/><path d="M1166 817.9l10.6 21.2h-21.2z"/><path d="M1267.5 855.9l10.6 21.2h-21.2z"/><path d="M1192.5 805.9l10.6 21.2h-21.2z"/><path d="M1193.2 904.3l10.6 21.2h-21.2z"/><path d="M1177.8 840.6l10.6 21.2h-21.2z"/><path d="M1226.9 765.4l10.6 21.2h-21.2z"/><path d="M1172.9 923.4l10.6 21.2h-21.2z"/><path d="M1198.8 950.7l10.6 21.2h-21.2z"/><path d="M1179.4 777.5l10.6 21.2h-21.2z"/><path d="M1228.8 773.2l10.6 21.2h-21.2z"/><path d="M1223.2 1012.2l10.6 21.2h-21.2z"/><path d="M1200.3 1012.1l10.6 21.2h-21.2z"/><path d="M1106.3 1041.5l10.6 21.2h-21.2z"/><path d="M1162.2 994.1l10.6 21.2h-21.2z"/><path d="M1124.2 982.8l10.6 21.2h-21.2z"/><path d="M1106.7 981.6l10.6 21.2h-21.2z"/><path d="M1064.5 882l10.6 21.2h-21.2z"/><path d="M1113.3 1023.5l10.6 21.2h-21.2z"/><path d="M1152.9 1016.2l10.6 21.2h-21.2z"/><path d="M1068.9 943.7l10.6 21.2h-21.2z"/><path d="M1106.5 866l10.6 21.2h-21.2z"/><path d="M1061.7 857.2l10.6 21.2h-21.2z"/><path d="M1196.9 1028.7l10.6 21.2h-21.2z"/><path d="M1077.7 1057.1l10.6 21.2h-21.2z"/><path d="M1046.1 1044.2l10.6 21.2h-21.2z"/><path d="M1204 983.7l10.6 21.2h-21.2z"/><path d="M1062.3 929.4l10.6 21.2h-21.2z"/><path d="M1230.2 1026.7l10.6 21.2h-21.2z"/><path d="M1222.7 989.9l10.6 21.2h-21.2z"/><path d="M1156.6 973.1l10.6 21.2h-21.2z"/><path d="M1051.2 1049.6l10.6 21.2h-21.2z"/><path d="M1070.1 1006.3l10.6 21.2h-21.2z"/><path d="M1071.7 894l10.6 21.2h-21.2z"/><path d="M1071.9 970.1l10.6 21.2h-21.2z"/><path d="M1162.6 983.9l10.6 21.2h-21.2z"/><path d="M1104.2 834.4l10.6 21.2h-21.2z"/><path d="M1084.3 942l10.6 21.2h-21.2z"/><path d="M1087.1 892.7l10.6 21.2h-21.2z"/><path d="M1136.9 1036.7l10.6 21.2h-21.2z"/><path d="M1070.8 925.5l10.6 21.2h-21.2z"/><path d="M1088.2 843.1l10.6 21.2h-21.2z"/><path d="M1248.6 995.6l10.6 21.2h-21.2z"/><path d="M1030.7 983.8l10.6 21.2h-21.2z"/><path d="M1048.8 978.9l10.6 21.2h-21.2z"/><path d="M1046.4 962.8l10.6 21.2h-21.2z"/><path d="M1117.3 880l10.6 21.2h-21.2z"/><path d="M1062.2 906.7l10.6 21.2h-21.2z"/><path d="M1163.4 1030.1l10.6 21.2h-21.2z"/><path d="M1184.1 986.1l10.6 21.2h-21.2z"/><path d="M1143.6 1003.6l10.6 21.2h-21.2z"/><path d="M1097.2 967.7l10.6 21.2h-21.2z"/><path d="M1143.3 987.4l10.6 21.2h-21.2z"/><path d="M1056.4 1022.4l10.6 21.2h-21.2z"/><path d="M1091.9 914.9l10.6 21.2h-21.2z"/><path d="M1055.6 1061.6l10.6 21.2h-21.2z"/><path d="M1034.6 1026.4l10.6 21.2h-21.2z"/><path d="M1028.5 1007.9l10.6 21.2h-21.2z"/><path d="M1089.1 875.7l10.6 21.2h-21.2z"/><path d="M1101 873.3l10.6 21.2h-21.2z"/><path d="M1370.7 828.1l10.6 21.2h-21.2z"/><path d="M1391.9 839.7l10.6 21.2h-21.2z"/><path d="M1306.9 891.8l10.6 21.2h-21.2z"/><path d="M1393.8 880.2l10.6 21.2h-21.2z"/><path d="M1291.5 934.3l10.6 21.2h-21.2z"/><path d="M1270.3 949.7l10.6 21.2h-21.2z"/><path d="M1254.8 986.4l10.6 21.2h-21.2z"/><path d="M1260.6 1013.4l10.6 21.2h-21.2z"/><path d="M1297.3 1007.6l10.6 21.2h-21.2z"/><path d="M1356.2 1025l10.6 21.2h-21.2z"/><path d="M1216.2 1034.7l10.6 21.2h-21.2z"/><path d="M1244.2 1056.9l10.6 21.2h-21.2z"/><path d="M1302.1 1057.8l10.6 21.2h-21.2z"/><path d="M1184.4 1069.4l10.6 21.2h-21.2z"/><path d="M1239.4 1082.9l10.6 21.2h-21.2z"/><path d="M1254.8 1090.7l10.6 21.2h-21.2z"/><path d="M1195 1096.4l10.6 21.2h-21.2z"/><path d="M1127.4 1100.3l10.6 21.2h-21.2z"/><path d="M1019.3 1073.3l10.6 21.2h-21.2z"/><path d="M1414.3 871.5l10.6 21.2h-21.2z"/><path d="M1448.2 512.6l10.6 21.2h-21.2z"/><path d="M1510.7 506.1l10.6 21.2h-21.2z"/><path d="M1449.6 529.5l10.6 21.2h-21.2z"/><path d="M1488.2 536.7l10.6 21.2h-21.2z"/><path d="M1462.1 487l10.6 21.2h-21.2z"/><path d="M1517.2 419.9l10.6 21.2h-21.2z"/><path d="M1487 577.1l10.6 21.2h-21.2z"/><path d="M1451.9 499.4l10.6 21.2h-21.2z"/><path d="M1490 545.7l10.6 21.2h-21.2z"/><path d="M1442.3 498.5l10.6 21.2h-21.2z"/><path d="M1482 449.3l10.6 21.2h-21.2z"/><path d="M1464.9 465.9l10.6 21.2h-21.2z"/><path d="M1503.4 461.1l10.6 21.2h-21.2z"/><path d="M1500 504.2l10.6 21.2h-21.2z"/><path d="M1482.1 526.7l10.6 21.2h-21.2z"/><path d="M1438.1 517.5l10.6 21.2h-21.2z"/><path d="M1446.8 554.9l10.6 21.2h-21.2z"/><path d="M1510.1 433.7l10.6 21.2h-21.2z"/><path d="M1483.5 570.8l10.6 21.2h-21.2z"/><path d="M1466.9 548.1l10.6 21.2h-21.2z"/><path d="M1449.3 542.2l10.6 21.2h-21.2z"/><path d="M1516.9 426.8l10.6 21.2h-21.2z"/><path d="M1475.7 494.2l10.6 21.2h-21.2z"/><path d="M1485.9 467.7l10.6 21.2h-21.2z"/><path d="M1490.9 470.5l10.6 21.2h-21.2z"/><path d="M1538.4 432l10.6 21.2h-21.2z"/><path d="M1489 523.5l10.6 21.2h-21.2z"/><path d="M1480 546.2l10.6 21.2h-21.2z"/><path d="M1530.1 419.6l10.6 21.2h-21.2z"/><path d="M1496.9 447.5l10.6 21.2h-21.2z"/><path d="M1476.2 554.6l10.6 21.2h-21.2z"/><path d="M1509.4 502.5l10.6 21.2h-21.2z"/><path d="M1487.5 436.1l10.6 21.2h-21.2z"/><path d="M1463.7 509.3l10.6 21.2h-21.2z"/><path d="M1485.6 508l10.6 21.2h-21.2z"/><path d="M1468.7 567.1l10.6 21.2h-21.2z"/><path d="M1495.9 484.8l10.6 21.2h-21.2z"/><path d="M1507.4 446.5l10.6 21.2h-21.2z"/><path d="M1448 479.4l10.6 21.2h-21.2z"/><path d="M1442.2 482.6l10.6 21.2h-21.2z"/><path d="M1471.8 492.4l10.6 21.2h-21.2z"/><path d="M1453.7 520.7l10.6 21.2h-21.2z"/><path d="M1465 478l10.6 21.2h-21.2z"/><path d="M1496.5 530.6l10.6 21.2h-21.2z"/><path d="M1506.5 443.6l10.6 21.2h-21.2z"/><path d="M1512.8 429.3l10.6 21.2h-21.2z"/><path d="M1486.1 477l10.6 21.2h-21.2z"/><path d="M1481.7 484.5l10.6 21.2h-21.2z"/><path d="M1493.6 566.3l10.6 21.2h-21.2z"/><path d="M1440.3 480.1l10.6 21.2h-21.2z"/><path d="M1464.9 496.2l10.6 21.2h-21.2z"/><path d="M1475.9 512.2l10.6 21.2h-21.2z"/><path d="M1495.8 507.8l10.6 21.2h-21.2z"/><path d="M1436.8 542.8l10.6 21.2h-21.2z"/><path d="M1427.8 508.4l10.6 21.2h-21.2z"/><path d="M1454.3 531l10.6 21.2h-21.2z"/><path d="M1337.6 638.2l10.6 21.2h-21.2z"/><path d="M1394.7 673.3l10.6 21.2h-21.2z"/><path d="M1365.9 643.9l10.6 21.2h-21.2z"/><path d="M1352 588.4l10.6 21.2h-21.2z"/><path d="M1476.2 619.9l10.6 21.2h-21.2z"/><path d="M1400 646.1l10.6 21.2h-21.2z"/><path d="M1432.5 650.6l10.6 21.2h-21.2z"/><path d="M1335.1 590.6l10.6 21.2h-21.2z"/><path d="M1352.3 636.8l10.6 21.2h-21.2z"/><path d="M1433.5 613.6l10.6 21.2h-21.2z"/><path d="M1444.5 631.1l10.6 21.2h-21.2z"/><path d="M1404.2 627.6l10.6 21.2h-21.2z"/><path d="M1419.5 669.8l10.6 21.2h-21.2z"/><path d="M1408.8 653.6l10.6 21.2h-21.2z"/><path d="M1297.8 619.1l10.6 21.2h-21.2z"/><path d="M1428.7 669.5l10.6 21.2h-21.2z"/><path d="M1325.9 583.3l10.6 21.2h-21.2z"/><path d="M1341.8 592.9l10.6 21.2h-21.2z"/><path d="M1321.1 606.7l10.6 21.2h-21.2z"/><path d="M1345 566l10.6 21.2h-21.2z"/><path d="M1452.5 598.9l10.6 21.2h-21.2z"/><path d="M1430.8 629.5l10.6 21.2h-21.2z"/><path d="M1395.1 591.2l10.6 21.2h-21.2z"/><path d="M1389.1 617.8l10.6 21.2h-21.2z"/><path d="M1432.2 600.1l10.6 21.2h-21.2z"/><path d="M1403.7 614.4l10.6 21.2h-21.2z"/><path d="M1388.3 554.7l10.6 21.2h-21.2z"/><path d="M1454 627.4l10.6 21.2h-21.2z"/><path d="M1468.1 613.6l10.6 21.2h-21.2z"/><path d="M1415.7 606.3l10.6 21.2h-21.2z"/><path d="M1390.3 650.2l10.6 21.2h-21.2z"/><path d="M1354.3 611.5l10.6 21.2h-21.2z"/><path d="M1307.2 636.6l10.6 21.2h-21.2z"/><path d="M1387.7 576.5l10.6 21.2h-21.2z"/><path d="M1374.2 598.1l10.6 21.2h-21.2z"/><path d="M1414.8 690.5l10.6 21.2h-21.2z"/><path d="M1322.1 632l10.6 21.2h-21.2z"/><path d="M1393.6 604.2l10.6 21.2h-21.2z"/><path d="M1387.6 656.3l10.6 21.2h-21.2z"/><path d="M1325.9 619.4l10.6 21.2h-21.2z"/><path d="M1388.4 685.1l10.6 21.2h-21.2z"/><path d="M1404.5 603.7l10.6 21.2h-21.2z"/><path d="M1411.1 602.3l10.6 21.2h-21.2z"/><path d="M1416.6 647.5l10.6 21.2h-21.2z"/><path d="M1356.6 585.7l10.6 21.2h-21.2z"/><path d="M1328.4 602.8l10.6 21.2h-21.2z"/><path d="M1450.6 615l10.6 21.2h-21.2z"/><path d="M1405.4 628.7l10.6 21.2h-21.2z"/><path d="M1358.3 623.3l10.6 21.2h-21.2z"/><path d="M1374.5 638.9l10.6 21.2h-21.2z"/><path d="M1436.7 618.9l10.6 21.2h-21.2z"/><path d="M1378.4 654.1l10.6 21.2h-21.2z"/><path d="M1308.3 625.5l10.6 21.2h-21.2z"/><path d="M1362.9 615.6l10.6 21.2h-21.2z"/><path d="M1373.2 624.6l10.6 21.2h-21.2z"/><path d="M1422.4 622l10.6 21.2h-21.2z"/><path d="M1382.5 667.4l10.6 21.2h-21.2z"/><path d="M1429.5 590.8l10.6 21.2h-21.2z"/><path d="M1366.6 567.1l10.6 21.2h-21.2z"/><path d="M1354.3 568.7l10.6 21.2h-21.2z"/><path d="M1330.8 616.3l10.6 21.2h-21.2z"/><path d="M1395.6 575.7l10.6 21.2h-21.2z"/><path d="M1410.1 623.7l10.6 21.2h-21.2z"/><path d="M1405.7 586.8l10.6 21.2h-21.2z"/><path d="M1414.8 636.2l10.6 21.2h-21.2z"/><path d="M1375.5 565.9l10.6 21.2h-21.2z"/><path d="M1307.5 602.1l10.6 21.2h-21.2z"/><path d="M1443.8 601.7l10.6 21.2h-21.2z"/><path d="M1358.6 602.3l10.6 21.2h-21.2z"/><path d="M1377.5 607.1l10.6 21.2h-21.2z"/><path d="M1402.4 680.6l10.6 21.2h-21.2z"/><path d="M1324.9 756.3l10.6 21.2h-21.2z"/><path d="M1284.9 712.9l10.6 21.2h-21.2z"/><path d="M1262.4 738.9l10.6 21.2h-21.2z"/><path d="M1243.9 729.4l10.6 21.2h-21.2z"/><path d="M1315.3 677.2l10.6 21.2h-21.2z"/><path d="M1250.3 700.8l10.6 21.2h-21.2z"/><path d="M1279.6 678.7l10.6 21.2h-21.2z"/><path d="M1291.7 755.1l10.6 21.2h-21.2z"/><path d="M1346.2 753.2l10.6 21.2h-21.2z"/><path d="M1225.6 744.1l10.6 21.2h-21.2z"/><path d="M1305.3 729.8l10.6 21.2h-21.2z"/><path d="M1288.8 739.5l10.6 21.2h-21.2z"/><path d="M1310.6 691.6l10.6 21.2h-21.2z"/><path d="M1315.7 667.1l10.6 21.2h-21.2z"/><path d="M1329 685.3l10.6 21.2h-21.2z"/><path d="M1250.1 657.2l10.6 21.2h-21.2z"/><path d="M1321.4 663.6l10.6 21.2h-21.2z"/><path d="M1233.6 764.3l10.6 21.2h-21.2z"/><path d="M1346 765.4l10.6 21.2h-21.2z"/><path d="M1354.9 720.9l10.6 21.2h-21.2z"/><path d="M1268.6 670.4l10.6 21.2h-21.2z"/><path d="M1285.5 699.1l10.6 21.2h-21.2z"/><path d="M1294.9 745.9l10.6 21.2h-21.2z"/><path d="M1344.2 730l10.6 21.2h-21.2z"/><path d="M1268.4 654.5l10.6 21.2h-21.2z"/><path d="M1226 716.5l10.6 21.2h-21.2z"/><path d="M1309.8 678.3l10.6 21.2h-21.2z"/><path d="M1291.9 664.2l10.6 21.2h-21.2z"/><path d="M1284.5 660.8l10.6 21.2h-21.2z"/><path d="M1327.3 742.3l10.6 21.2h-21.2z"/><path d="M1286.4 728.8l10.6 21.2h-21.2z"/><path d="M1300.2 700.1l10.6 21.2h-21.2z"/><path d="M1252.4 753.7l10.6 21.2h-21.2z"/><path d="M1263.6 752.8l10.6 21.2h-21.2z"/><path d="M1269 650.2l10.6 21.2h-21.2z"/><path d="M1235 722.5l10.6 21.2h-21.2z"/><path d="M1313.3 703.5l10.6 21.2h-21.2z"/><path d="M1347.5 716.5l10.6 21.2h-21.2z"/><path d="M1214.3 705.1l10.6 21.2h-21.2z"/><path d="M1307.3 756.9l10.6 21.2h-21.2z"/><path d="M1231.3 753.6l10.6 21.2h-21.2z"/><path d="M1263.8 655.8l10.6 21.2h-21.2z"/><path d="M1331.3 716.4l10.6 21.2h-21.2z"/><path d="M1273.5 716.4l10.6 21.2h-21.2z"/><path d="M1276.4 748.8l10.6 21.2h-21.2z"/><path d="M1233.1 731.4l10.6 21.2h-21.2z"/><path d="M1241.6 711.1l10.6 21.2h-21.2z"/><path d="M1330.1 729.1l10.6 21.2h-21.2z"/><path d="M1344.9 694.9l10.6 21.2h-21.2z"/><path d="M1276.3 733.2l10.6 21.2h-21.2z"/><path d="M1309.7 723.5l10.6 21.2h-21.2z"/><path d="M1338.6 714.8l10.6 21.2h-21.2z"/><path d="M1266 762l10.6 21.2h-21.2z"/><path d="M1339.4 666.1l10.6 21.2h-21.2z"/><path d="M1251.2 687l10.6 21.2h-21.2z"/><path d="M1256.8 719.9l10.6 21.2h-21.2z"/><path d="M1233.8 672.5l10.6 21.2h-21.2z"/><path d="M1312 753.3l10.6 21.2h-21.2z"/><path d="M1323.1 664.2l10.6 21.2h-21.2z"/><path d="M1265.9 711.1l10.6 21.2h-21.2z"/><path d="M1343.6 708.3l10.6 21.2h-21.2z"/><path d="M1287.5 675.8l10.6 21.2h-21.2z"/><path d="M1294.2 688.7l10.6 21.2h-21.2z"/><path d="M1376.1 513l10.6 21.2h-21.2z"/><path d="M1338.1 546.8l10.6 21.2h-21.2z"/><path d="M1383.4 531.9l10.6 21.2h-21.2z"/><path d="M1404.8 529.2l10.6 21.2h-21.2z"/><path d="M1349.3 528.8l10.6 21.2h-21.2z"/><path d="M1358.8 541.1l10.6 21.2h-21.2z"/><path d="M1366.2 525.8l10.6 21.2h-21.2z"/><path d="M1562.9 455.1l10.6 21.2h-21.2z"/><path d="M1597.7 456.1l10.6 21.2h-21.2z"/><path d="M1526.3 512.1l10.6 21.2h-21.2z"/><path d="M1541.7 557.4l10.6 21.2h-21.2z"/><path d="M1525.3 622.1l10.6 21.2h-21.2z"/><path d="M1505 664.6l10.6 21.2h-21.2z"/><path d="M1472.2 674.2l10.6 21.2h-21.2z"/><path d="M1467.4 686.8l10.6 21.2h-21.2z"/><path d="M1440.3 716.7l10.6 21.2h-21.2z"/><path d="M1547.5 717.7l10.6 21.2h-21.2z"/><path d="M1350.6 452.2l10.6 21.2h-21.2z"/><path d="M1370.8 477.3l10.6 21.2h-21.2z"/><path d="M1429.7 425.2l10.6 21.2h-21.2z"/><path d="M1429.7 448.4l10.6 21.2h-21.2z"/><path d="M1249.2 573.8l10.6 21.2h-21.2z"/><path d="M1232.8 631.8l10.6 21.2h-21.2z"/><path d="M1489.6 627.9l10.6 21.2h-21.2z"/><path d="M1435.3 394l10.6 21.2h-21.2z"/><path d="M1457.5 394l10.6 21.2h-21.2z"/><path d="M1526.1 382.5l10.6 21.2h-21.2z"/><path d="M1429.5 426.9l10.6 21.2h-21.2z"/><path d="M1349.4 451.9l10.6 21.2h-21.2z"/><path d="M1429.5 451.9l10.6 21.2h-21.2z"/><path d="M1472 451.9l10.6 21.2h-21.2z"/><path d="M1497.1 413.3l10.6 21.2h-21.2z"/><path d="M1510.6 415.3l10.6 21.2h-21.2z"/><path d="M1535.7 411.4l10.6 21.2h-21.2z"/><path d="M1545.4 432.6l10.6 21.2h-21.2z"/><path d="M1504.8 448.1l10.6 21.2h-21.2z"/><path d="M1562.7 457.7l10.6 21.2h-21.2z"/><path d="M1599.4 457.7l10.6 21.2h-21.2z"/><path d="M1370.7 479l10.6 21.2h-21.2z"/><path d="M1526.1 513.7l10.6 21.2h-21.2z"/><path d="M1365.8 513.7l10.6 21.2h-21.2z"/><path d="M1387.1 507.9l10.6 21.2h-21.2z"/><path d="M1408.3 502.1l10.6 21.2h-21.2z"/><path d="M1423.7 502.1l10.6 21.2h-21.2z"/><path d="M1340.7 525.3l10.6 21.2h-21.2z"/><path d="M1323.4 535l10.6 21.2h-21.2z"/><path d="M1391.9 531.7l10.6 21.2h-21.2z"/><path d="M1400.4 536.8l10.6 21.2h-21.2z"/><path d="M1492.6 460.7l10.6 21.2h-21.2z"/><path d="M1416.5 526.6l10.6 21.2h-21.2z"/><path d="M1461.7 488.8l10.6 21.2h-21.2z"/><path d="M1508.9 519.9l10.6 21.2h-21.2z"/><path d="M1491.8 532.8l10.6 21.2h-21.2z"/><path d="M1448.8 508.3l10.6 21.2h-21.2z"/><path d="M1509.2 503.1l10.6 21.2h-21.2z"/><path d="M1474.6 507.8l10.6 21.2h-21.2z"/><path d="M1404.4 535.4l10.6 21.2h-21.2z"/><path d="M1501.7 464.9l10.6 21.2h-21.2z"/><path d="M1450.9 494.3l10.6 21.2h-21.2z"/><path d="M1439.9 484.1l10.6 21.2h-21.2z"/><path d="M1486.2 463.9l10.6 21.2h-21.2z"/><path d="M1481.3 474.5l10.6 21.2h-21.2z"/><path d="M1505.6 458.7l10.6 21.2h-21.2z"/><path d="M1473.8 518.3l10.6 21.2h-21.2z"/><path d="M1447.4 519.1l10.6 21.2h-21.2z"/><path d="M1502.7 477.3l10.6 21.2h-21.2z"/><path d="M1453.6 525.3l10.6 21.2h-21.2z"/><path d="M1428.3 541.1l10.6 21.2h-21.2z"/><path d="M1481.9 500.4l10.6 21.2h-21.2z"/><path d="M1444.2 528.3l10.6 21.2h-21.2z"/><path d="M1487 487l10.6 21.2h-21.2z"/><path d="M1486.8 529.4l10.6 21.2h-21.2z"/><path d="M1479.8 539l10.6 21.2h-21.2z"/><path d="M1509 534.7l10.6 21.2h-21.2z"/><path d="M1483 495.1l10.6 21.2h-21.2z"/><path d="M1436.4 534l10.6 21.2h-21.2z"/><path d="M1505.6 492.8l10.6 21.2h-21.2z"/><path d="M1373.6 534.7l10.6 21.2h-21.2z"/><path d="M1500.9 443l10.6 21.2h-21.2z"/><path d="M1436.6 515.8l10.6 21.2h-21.2z"/><path d="M1475.6 533.8l10.6 21.2h-21.2z"/><path d="M1185.1 633.7l10.6 21.2h-21.2z"/><path d="M1193.8 645.3l10.6 21.2h-21.2z"/><path d="M1030.7 712.8l10.6 21.2h-21.2z"/><path d="M998.8 730.2l10.6 21.2h-21.2z"/><path d="M930.3 743.7l10.6 21.2h-21.2z"/><path d="M988.2 757.2l10.6 21.2h-21.2z"/><path d="M1099.2 722.5l10.6 21.2h-21.2z"/><path d="M1116.6 705.1l10.6 21.2h-21.2z"/><path d="M1120.5 720.6l10.6 21.2h-21.2z"/><path d="M1137.8 697.4l10.6 21.2h-21.2z"/><path d="M1153.3 697.4l10.6 21.2h-21.2z"/><path d="M1149.4 710.9l10.6 21.2h-21.2z"/><path d="M1191.9 707l10.6 21.2h-21.2z"/><path d="M1159.1 730.2l10.6 21.2h-21.2z"/><path d="M1178.4 747.6l10.6 21.2h-21.2z"/><path d="M1170.7 759.2l10.6 21.2h-21.2z"/><path d="M1064.5 765l10.6 21.2h-21.2z"/><path d="M829 765l10.6 21.2h-21.2z"/><path d="M1197.7 685.8l10.6 21.2h-21.2z"/><path d="M1190 728.3l10.6 21.2h-21.2z"/><path d="M1268.9 647l10.6 21.2h-21.2z"/><path d="M1209.2 648.5l10.6 21.2h-21.2z"/><path d="M1185.4 698.9l10.6 21.2h-21.2z"/><path d="M1338.8 574l10.6 21.2h-21.2z"/><path d="M1301.8 620.4l10.6 21.2h-21.2z"/><path d="M1292.6 610.5l10.6 21.2h-21.2z"/><path d="M1217.5 677l10.6 21.2h-21.2z"/><path d="M1280.8 611.6l10.6 21.2h-21.2z"/><path d="M1227.1 710.9l10.6 21.2h-21.2z"/><path d="M1270.9 680.3l10.6 21.2h-21.2z"/><path d="M1215.3 707.1l10.6 21.2h-21.2z"/><path d="M1232.7 676.5l10.6 21.2h-21.2z"/><path d="M1283.8 585.5l10.6 21.2h-21.2z"/><path d="M1325.4 566.9l10.6 21.2h-21.2z"/><path d="M1312.4 594.6l10.6 21.2h-21.2z"/><path d="M1234.1 622.8l10.6 21.2h-21.2z"/><path d="M1244.4 677l10.6 21.2h-21.2z"/><path d="M1262.6 644.2l10.6 21.2h-21.2z"/><path d="M1255.1 606.4l10.6 21.2h-21.2z"/><path d="M1176.2 672.8l10.6 21.2h-21.2z"/><path d="M1335.3 555l10.6 21.2h-21.2z"/><path d="M1191.2 678l10.6 21.2h-21.2z"/><path d="M1119.8 714.2l10.6 21.2h-21.2z"/><path d="M1233 653.3l10.6 21.2h-21.2z"/><path d="M1205.3 674.2l10.6 21.2h-21.2z"/><path d="M1314.6 576.3l10.6 21.2h-21.2z"/><path d="M1247.9 615.2l10.6 21.2h-21.2z"/><path d="M1349.6 535.2l10.6 21.2h-21.2z"/><path d="M1189.1 649.3l10.6 21.2h-21.2z"/><path d="M1253.5 658.4l10.6 21.2h-21.2z"/><path d="M1209.1 704.7l10.6 21.2h-21.2z"/><path d="M1334.2 593.7l10.6 21.2h-21.2z"/><path d="M1249.3 665.1l10.6 21.2h-21.2z"/><path d="M1157.7 712.3l10.6 21.2h-21.2z"/><path d="M1231 636.2l10.6 21.2h-21.2z"/><path d="M1288.6 619l10.6 21.2h-21.2z"/><path d="M1234.4 682l10.6 21.2h-21.2z"/><path d="M1175.2 687.8l10.6 21.2h-21.2z"/><path d="M1212.2 715.7l10.6 21.2h-21.2z"/><path d="M1308.6 603.7l10.6 21.2h-21.2z"/><path d="M1270.5 668.1l10.6 21.2h-21.2z"/><path d="M1265.3 622.2l10.6 21.2h-21.2z"/><path d="M1439.8 507.1l10.6 21.2h-21.2z"/><path d="M1382 541.7l10.6 21.2h-21.2z"/><path d="M1412.2 499.3l10.6 21.2h-21.2z"/><path d="M1416.3 523.2l10.6 21.2h-21.2z"/><path d="M1369.7 535.1l10.6 21.2h-21.2z"/><path d="M1427.3 515.5l10.6 21.2h-21.2z"/><path d="M1401.5 520.1l10.6 21.2h-21.2z"/><path d="M1486.2 469.1l10.6 21.2h-21.2z"/><path d="M1402 505.9l10.6 21.2h-21.2z"/><path d="M1404 507.7l10.6 21.2h-21.2z"/><path d="M1438.2 498.5l10.6 21.2h-21.2z"/><path d="M1466.7 472.2l10.6 21.2h-21.2z"/><path d="M1448.7 490.9l10.6 21.2h-21.2z"/><path d="M1455.2 468.4l10.6 21.2h-21.2z"/><path d="M1238 1120.4l10.6 21.2h-21.2z"/><path d="M1301.3 807.9l10.6 21.2h-21.2z"/><path d="M1488.6 573.5l10.6 21.2h-21.2z"/><path d="M1376 628.7l10.6 21.2h-21.2z"/><path d="M1436.3 618.8l10.6 21.2h-21.2z"/><path d="M1486.1 523.4l10.6 21.2h-21.2z"/><path d="M1121.3 894.7l10.6 21.2h-21.2z"/><path d="M1074.7 894.4l10.6 21.2h-21.2z"/><path d="M1218.6 782.6l10.6 21.2h-21.2z"/><path d="M1353.8 529l10.6 21.2h-21.2z"/><path d="M1439.4 645.7l10.6 21.2h-21.2z"/><path d="M1102.9 1054.8l10.6 21.2h-21.2z"/><path d="M1341.1 577.6l10.6 21.2h-21.2z"/><path d="M1197.5 866.5l10.6 21.2h-21.2z"/><path d="M1102.9 909.5l10.6 21.2h-21.2z"/><path d="M1381.3 646.5l10.6 21.2h-21.2z"/><path d="M1347.3 547.4l10.6 21.2h-21.2z"/><path d="M1231.7 669.8l10.6 21.2h-21.2z"/><path d="M1268.8 873.5l10.6 21.2h-21.2z"/><path d="M1231.7 696.3l10.6 21.2h-21.2z"/><path d="M1344.9 747.9l10.6 21.2h-21.2z"/><path d="M1217.5 667.5l10.6 21.2h-21.2z"/><path d="M1149.5 794.5l10.6 21.2h-21.2z"/><path d="M1098.9 833.3l10.6 21.2h-21.2z"/><path d="M1530.2 408.3l10.6 21.2h-21.2z"/><path d="M1063.4 967.5l10.6 21.2h-21.2z"/><path d="M1270.6 926.3l10.6 21.2h-21.2z"/><path d="M1048.4 963.8l10.6 21.2h-21.2z"/><path d="M1085.3 930.1l10.6 21.2h-21.2z"/><path d="M1494.1 409.5l10.6 21.2h-21.2z"/><path d="M1433.3 596.6l10.6 21.2h-21.2z"/><path d="M1506 431.9l10.6 21.2h-21.2z"/><path d="M1298.4 850.5l10.6 21.2h-21.2z"/><path d="M1251.4 867.8l10.6 21.2h-21.2z"/><path d="M1274.4 857.4l10.6 21.2h-21.2z"/><path d="M1123.2 779l10.6 21.2h-21.2z"/><path d="M1262.6 725.3l10.6 21.2h-21.2z"/><path d="M1350.2 759.9l10.6 21.2h-21.2z"/><path d="M1230.9 786.9l10.6 21.2h-21.2z"/><path d="M1194.7 689.1l10.6 21.2h-21.2z"/><path d="M1055.8 1021.7l10.6 21.2h-21.2z"/><path d="M1211.3 882.9l10.6 21.2h-21.2z"/><path d="M1445.9 598.4l10.6 21.2h-21.2z"/><path d="M1170.8 824.2l10.6 21.2h-21.2z"/><path d="M1095.6 887.2l10.6 21.2h-21.2z"/><path d="M1130.4 974.4l10.6 21.2h-21.2z"/><path d="M1153.9 901.8l10.6 21.2h-21.2z"/><path d="M1355.1 705.2l10.6 21.2h-21.2z"/><path d="M1294.4 579.9l10.6 21.2h-21.2z"/><path d="M1288.3 796.6l10.6 21.2h-21.2z"/><path d="M1530.4 425.9l10.6 21.2h-21.2z"/><path d="M1408.1 511.1l10.6 21.2h-21.2z"/><path d="M1236.8 724.4l10.6 21.2h-21.2z"/><path d="M1318.5 801l10.6 21.2h-21.2z"/><path d="M1379.6 670.2l10.6 21.2h-21.2z"/><path d="M1066.2 999.5l10.6 21.2h-21.2z"/><path d="M1292.7 708.7l10.6 21.2h-21.2z"/><path d="M1090.1 944.3l10.6 21.2h-21.2z"/><path d="M1047.9 988.9l10.6 21.2h-21.2z"/><path d="M1279.4 847.7l10.6 21.2h-21.2z"/><path d="M1514.2 457.5l10.6 21.2h-21.2z"/><path d="M1381.2 505.9l10.6 21.2h-21.2z"/><path d="M1426.2 542.1l10.6 21.2h-21.2z"/><path d="M1206.6 849.3l10.6 21.2h-21.2z"/><path d="M1443.8 629.4l10.6 21.2h-21.2z"/><path d="M1170.1 947.6l10.6 21.2h-21.2z"/><path d="M1097.3 1039.8l10.6 21.2h-21.2z"/><path d="M1194.4 980l10.6 21.2h-21.2z"/><path d="M1055.9 1050.1l10.6 21.2h-21.2z"/><path d="M1406 482.4l10.6 21.2h-21.2z"/><path d="M1190.8 824.4l10.6 21.2h-21.2z"/><path d="M1455.2 440.3l10.6 21.2h-21.2z"/><path d="M1300.1 616.1l10.6 21.2h-21.2z"/><path d="M1309.4 571.5l10.6 21.2h-21.2z"/><path d="M1299.7 752.5l10.6 21.2h-21.2z"/><path d="M1164.8 768.1l10.6 21.2h-21.2z"/><path d="M1157.9 865l10.6 21.2h-21.2z"/><path d="M1241.4 950.7l10.6 21.2h-21.2z"/><path d="M1326.5 591.7l10.6 21.2h-21.2z"/><path d="M1235.8 825.3l10.6 21.2h-21.2z"/><path d="M1358 557.7l10.6 21.2h-21.2z"/><path d="M1217.9 720.4l10.6 21.2h-21.2z"/><path d="M1498.8 567.1l10.6 21.2h-21.2z"/><path d="M1469.1 492.5l10.6 21.2h-21.2z"/><path d="M1400.8 471l10.6 21.2h-21.2z"/><path d="M1223.4 632.8l10.6 21.2h-21.2z"/><path d="M1237.6 799.3l10.6 21.2h-21.2z"/><path d="M1244.8 748.2l10.6 21.2h-21.2z"/><path d="M1481 414.6l10.6 21.2h-21.2z"/><path d="M1158.3 1004.5l10.6 21.2h-21.2z"/><path d="M1419.3 632.6l10.6 21.2h-21.2z"/><path d="M1265.8 905.7l10.6 21.2h-21.2z"/><path d="M1274 732.7l10.6 21.2h-21.2z"/><path d="M1254.4 952.3l10.6 21.2h-21.2z"/><path d="M1235 745.2l10.6 21.2h-21.2z"/><path d="M1240.3 964l10.6 21.2h-21.2z"/><path d="M1477.8 487.5l10.6 21.2h-21.2z"/><path d="M1421.8 676.2l10.6 21.2h-21.2z"/><path d="M1338.6 567.7l10.6 21.2h-21.2z"/><path d="M1442.1 492.1l10.6 21.2h-21.2z"/><path d="M1259.1 632.6l10.6 21.2h-21.2z"/><path d="M1219.8 796l10.6 21.2h-21.2z"/><path d="M1231.8 992.2l10.6 21.2h-21.2z"/><path d="M1268.5 650.7l10.6 21.2h-21.2z"/><path d="M1074.9 930.4l10.6 21.2h-21.2z"/><path d="M1185.2 740l10.6 21.2h-21.2z"/><path d="M1348.3 748.9l10.6 21.2h-21.2z"/><path d="M1041.6 1051.6l10.6 21.2h-21.2z"/><path d="M1222.9 900.5l10.6 21.2h-21.2z"/><path d="M1532.9 414.7l10.6 21.2h-21.2z"/><path d="M1109.6 855.7l10.6 21.2h-21.2z"/><path d="M1195.2 833.1l10.6 21.2h-21.2z"/><path d="M1175.6 688.6l10.6 21.2h-21.2z"/><path d="M1228.8 852.9l10.6 21.2h-21.2z"/><path d="M1165 1021.7l10.6 21.2h-21.2z"/><path d="M1445.7 570.8l10.6 21.2h-21.2z"/><path d="M1122.9 870.8l10.6 21.2h-21.2z"/><path d="M1315.3 684.4l10.6 21.2h-21.2z"/><path d="M1497.6 442.3l10.6 21.2h-21.2z"/><path d="M1227.2 863.9l10.6 21.2h-21.2z"/><path d="M1189.7 915.9l10.6 21.2h-21.2z"/><path d="M1321.1 752.3l10.6 21.2h-21.2z"/><path d="M1240.8 925.7l10.6 21.2h-21.2z"/><path d="M1189.7 702l10.6 21.2h-21.2z"/><path d="M1467.3 594.3l10.6 21.2h-21.2z"/><path d="M1379.8 688.8l10.6 21.2h-21.2z"/><path d="M1140.7 764.1l10.6 21.2h-21.2z"/><path d="M1354.9 650.2l10.6 21.2h-21.2z"/><path d="M1273.2 691.9l10.6 21.2h-21.2z"/><path d="M1188.5 896.7l10.6 21.2h-21.2z"/>
</g>
<g stroke="#000" stroke-width="5.4" fill="none" stroke-linecap="butt">
<path d="M387.3 65.8H2017.6000000000001"/>
<path d="M387.3 1543.5H2017.6000000000001"/>
<path d="M413.9 63.099999999999994V1569.8"/>
<path d="M2014.9 63.099999999999994V1569.8"/>
<path d="M504.2 1527.6V1543.5"/>
<path d="M589.4 1527.6V1543.5"/>
<path d="M679.7 1527.6V1543.5"/>
<path d="M770.4 1527.6V1543.5"/>
<path d="M860.7 1527.6V1543.5"/>
<path d="M945.9 1527.6V1569.8"/>
<path d="M1036.1 1527.6V1543.5"/>
<path d="M1126.5 1527.6V1543.5"/>
<path d="M1217.1 1527.6V1543.5"/>
<path d="M1302.3 1527.6V1543.5"/>
<path d="M1392.6 1527.6V1543.5"/>
<path d="M1483 1527.6V1569.8"/>
<path d="M1573.2 1527.6V1543.5"/>
<path d="M1658.4 1527.6V1543.5"/>
<path d="M1749 1527.6V1543.5"/>
<path d="M1839.4 1527.6V1543.5"/>
<path d="M1924.5 1527.6V1543.5"/>
<path d="M413.9 145.7H434.8"/>
<path d="M413.9 230.9H434.8"/>
<path d="M413.9 310.5H434.8"/>
<path d="M413.9 395.7H434.8"/>
<path d="M413.9 475.2H434.8"/>
<path d="M387.3 560.3H434.8"/>
<path d="M413.9 640H434.8"/>
<path d="M413.9 719.5H434.8"/>
<path d="M413.9 804.8H434.8"/>
<path d="M413.9 884.3H434.8"/>
<path d="M413.9 969.5H434.8"/>
<path d="M387.3 1049.1H434.8"/>
<path d="M413.9 1134.8H434.8"/>
<path d="M413.9 1214H434.8"/>
<path d="M413.9 1299.2H434.8"/>
<path d="M413.9 1378.8H434.8"/>
<path d="M413.9 1463.6H434.8"/>
</g>
<text transform="translate(344.3 91.2) scale(0.9716 1)" font-size="88" text-anchor="end" stroke="#000" stroke-width="0.5">1800</text>
<text transform="translate(344.3 584.8) scale(0.9716 1)" font-size="88" text-anchor="end" stroke="#000" stroke-width="0.5">1200</text>
<text transform="translate(344.3 1078.6) scale(0.9716 1)" font-size="88" text-anchor="end" stroke="#000" stroke-width="0.5">600</text>
<text transform="translate(344.3 1572.1) scale(0.9716 1)" font-size="88" text-anchor="end" stroke="#000" stroke-width="0.5">0</text>
<text transform="translate(416.4 1674) scale(0.9716 1)" font-size="88" text-anchor="middle" stroke="#000" stroke-width="0.5">0</text>
<text transform="translate(949.4 1674) scale(0.9716 1)" font-size="88" text-anchor="middle" stroke="#000" stroke-width="0.5">600</text>
<text transform="translate(1485.6 1674) scale(0.9716 1)" font-size="88" text-anchor="middle" stroke="#000" stroke-width="0.5">1200</text>
<text transform="translate(2020.4 1674) scale(0.9716 1)" font-size="88" text-anchor="middle" stroke="#000" stroke-width="0.5">1800</text>
<text transform="translate(808 1796) scale(0.9716 1)" font-size="88" stroke="#000" stroke-width="0.5">RSEB-ET (<tspan dx="-3">mm</tspan><tspan dx="-5.5" dy="-9.5" font-size="76">·</tspan><tspan dx="2.5" dy="9.5" letter-spacing="-3">year</tspan><tspan font-size="58.5" dy="-27.6" dx="2">-</tspan><tspan font-size="58.5" dx="1">1</tspan><tspan dy="27.6" dx="5">)</tspan></text>
<text transform="translate(114 1182) rotate(-90) scale(0.9716 1)" x="-5" font-size="88" stroke="#000" stroke-width="0.5">SSS<tspan dx="3">-ET</tspan> <tspan dx="-6">(</tspan><tspan dx="-2">mm</tspan><tspan dx="-4.5" dy="-9.5" font-size="76">·</tspan><tspan dx="-5.5" dy="9.5" letter-spacing="-0.8">year</tspan><tspan font-size="58.5" dy="-27.6" dx="0">-</tspan><tspan font-size="58.5" dx="3">1</tspan><tspan dy="27.6" dx="2">)</tspan></text>
<g stroke-width="4.6" stroke-linejoin="round">
<path d="M1493.6 1112.6l21.6 21.6-21.6 21.6-21.6-21.6z" fill="#3e5872" fill-opacity="0.6" stroke="#3e5872"/>
<path d="M1477.5 1251.1h22v22h-22z" fill="#e00000" fill-opacity="0.1" stroke="#e00000"/>
<path d="M1493.5 1394.7l11 22h-22z" fill="none" stroke="#00b050"/>
</g>
<text transform="translate(1537 1161.2) scale(0.9716 1)" font-size="88" stroke="#000" stroke-width="0.5">DOY-195</text>
<text transform="translate(1537 1295.1) scale(0.9716 1)" font-size="88" stroke="#000" stroke-width="0.5">DOY-227</text>
<text transform="translate(1537 1429.6) scale(0.9716 1)" font-size="88" stroke="#000" stroke-width="0.5">DOY-259</text>
</svg></body></html>
